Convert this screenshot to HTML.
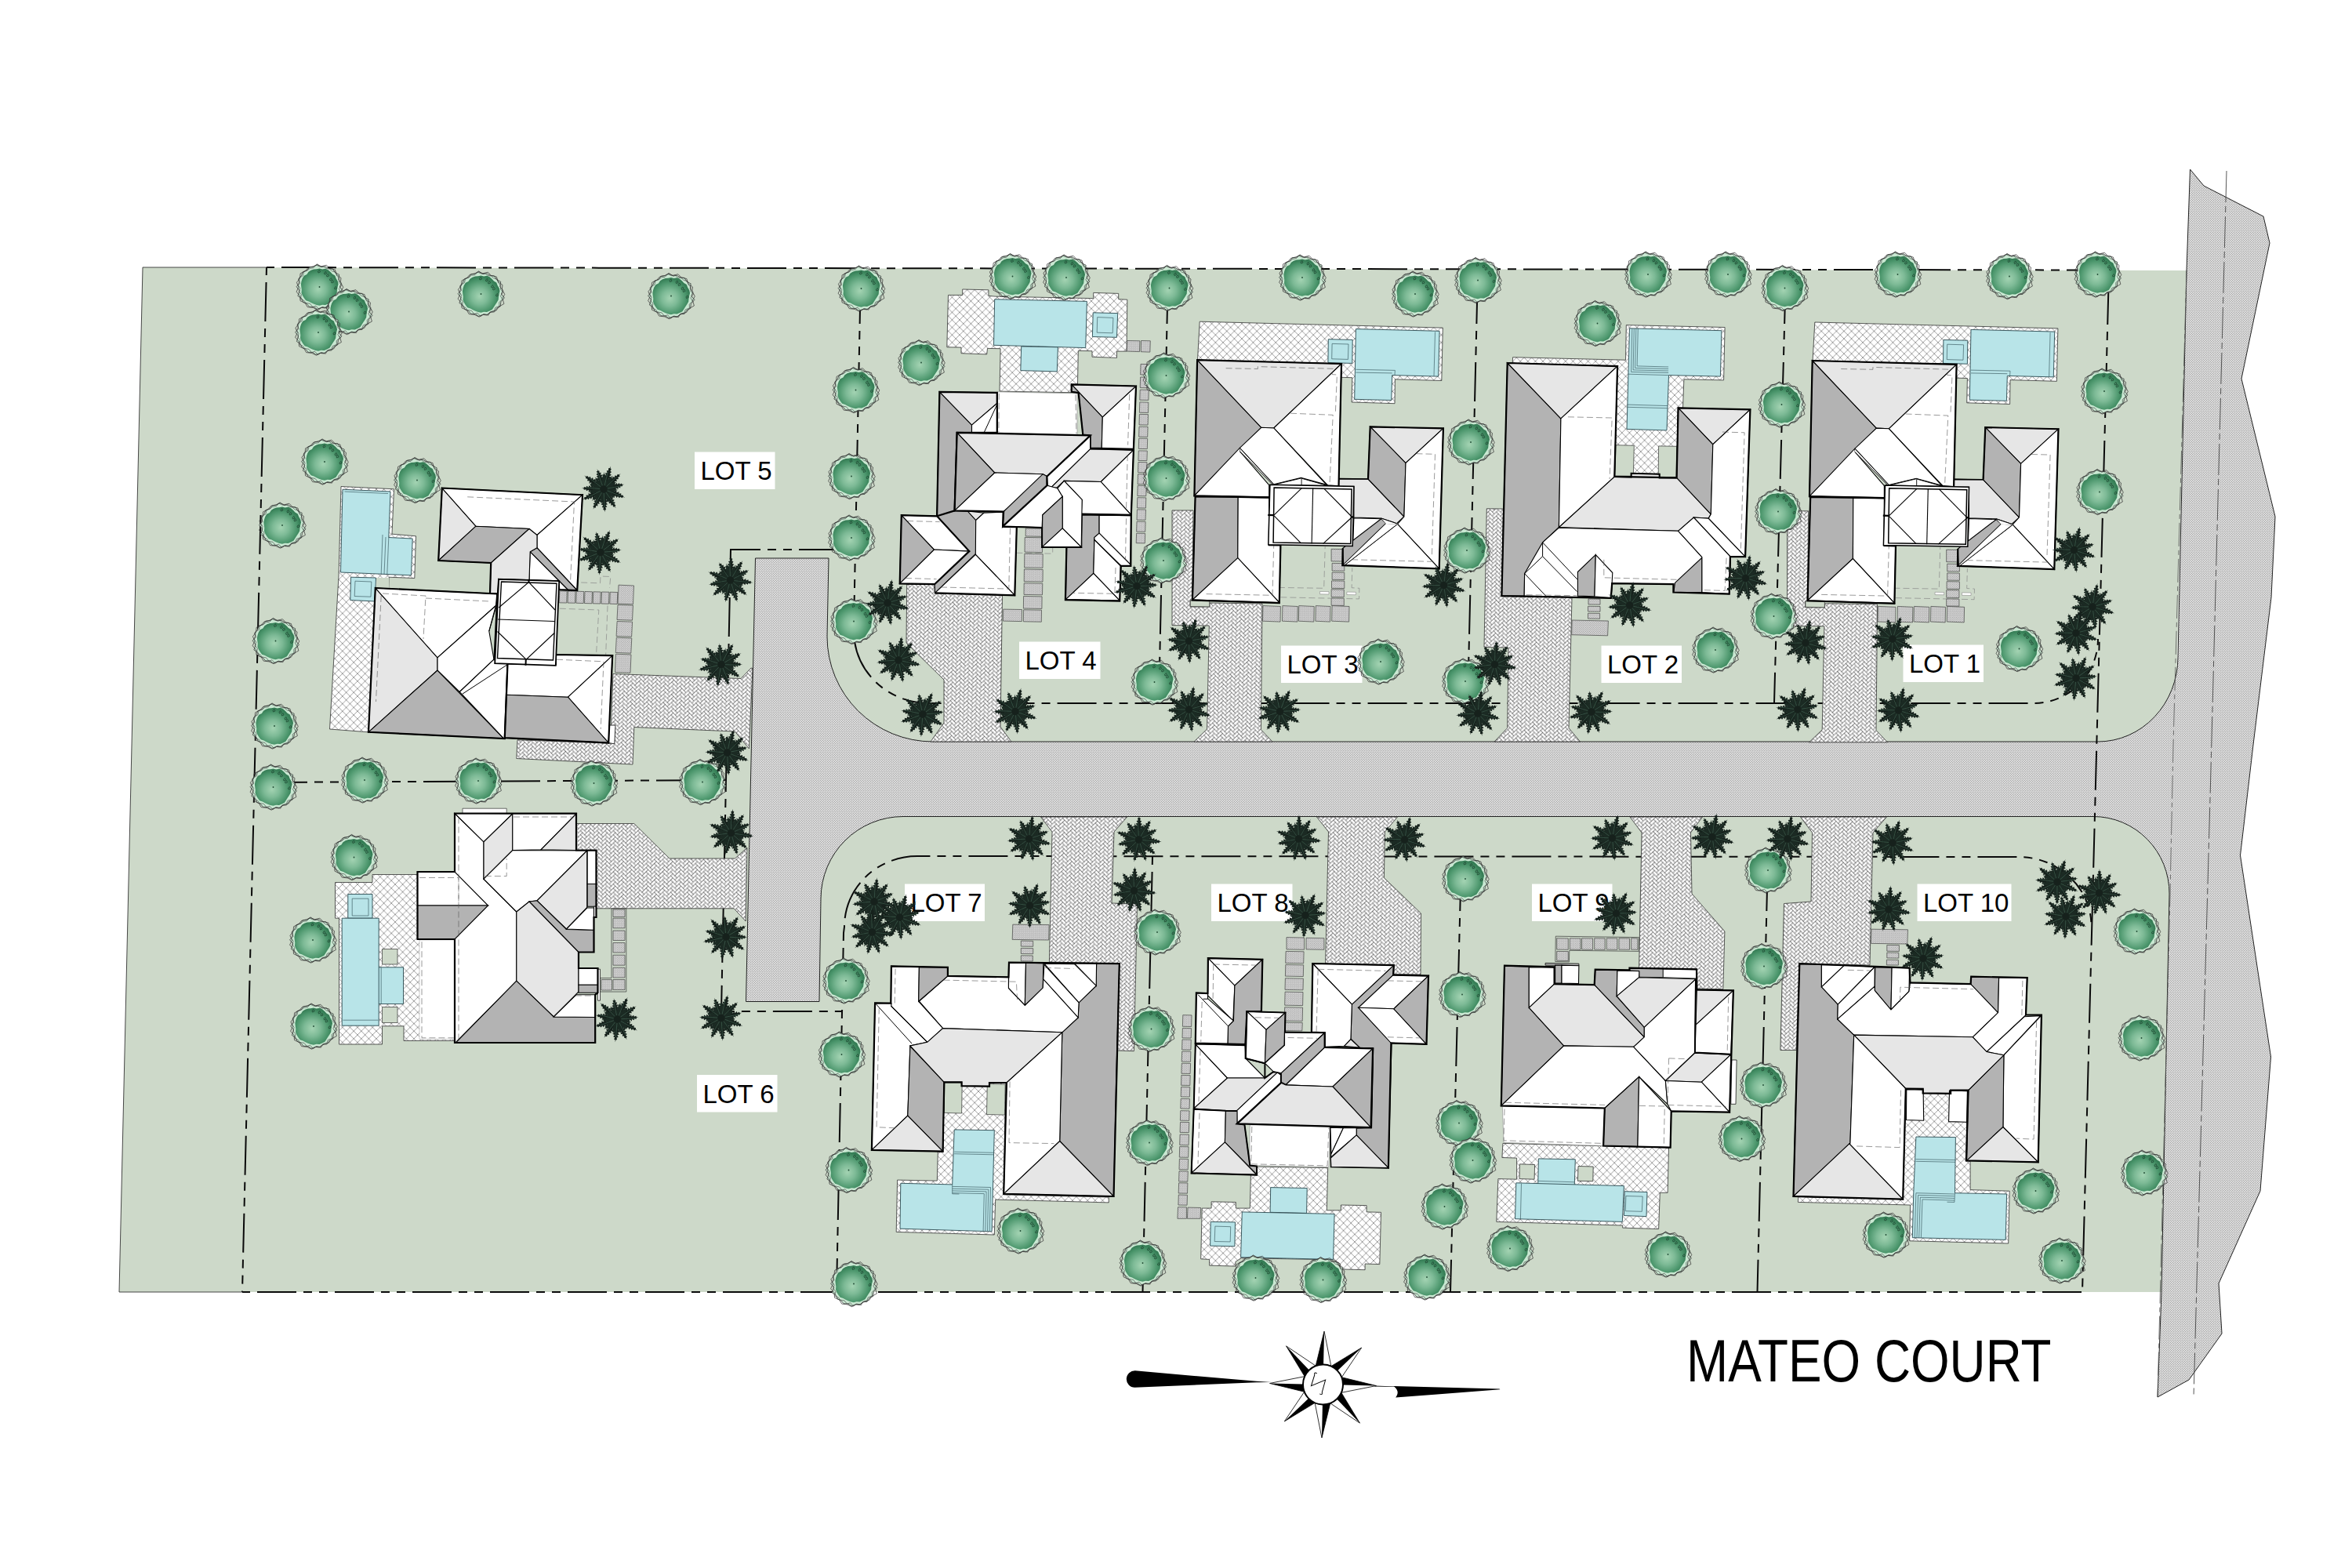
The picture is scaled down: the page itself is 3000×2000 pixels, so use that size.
<!DOCTYPE html>
<html><head><meta charset="utf-8"><title>Mateo Court</title>
<style>html,body{margin:0;padding:0;background:#fff;}svg{display:block;font-family:"Liberation Sans",sans-serif;}</style>
</head><body>
<svg width="3000" height="2000" viewBox="0 0 3000 2000">
<rect width="3000" height="2000" fill="#fff"/>
<defs>
<radialGradient id="tg" cx="46%" cy="56%" r="54%">
<stop offset="0" stop-color="#a3d3b2"/><stop offset="0.4" stop-color="#7dba96"/><stop offset="0.8" stop-color="#4a956b"/><stop offset="1" stop-color="#357d55"/>
</radialGradient>
<pattern id="road" width="3" height="3" patternUnits="userSpaceOnUse">
<rect width="3" height="3" fill="#e6e6e6"/>
<circle cx="0.75" cy="0.75" r="0.74" fill="#9c9c9c"/><circle cx="2.25" cy="2.25" r="0.74" fill="#9c9c9c"/>
</pattern>
<pattern id="stone" width="2.6" height="2.6" patternUnits="userSpaceOnUse">
<rect width="2.6" height="2.6" fill="#e2e2e2"/>
<circle cx="0.65" cy="0.65" r="0.66" fill="#989898"/><circle cx="1.95" cy="1.95" r="0.66" fill="#989898"/>
</pattern>
<pattern id="xh" width="9.6" height="9.6" patternUnits="userSpaceOnUse">
<rect width="9.6" height="9.6" fill="#ffffff"/>
<path d="M-1 -1 L10.6 10.6 M10.6 -1 L-1 10.6" stroke="#7d7d7d" stroke-width="0.75" fill="none"/>
</pattern>

<pattern id="herr" width="14.80" height="14.80" patternUnits="userSpaceOnUse" patternTransform="rotate(45.0)"><rect width="14.80" height="14.80" fill="#fdfdfd"/><path d="M0.00 3.70 H3.70 M3.70 3.70 V7.40 M3.70 7.40 V11.10 M0.00 11.10 H3.70 M3.70 11.10 V14.80 M0.00 14.80 H3.70 M7.40 0.00 V3.70 M3.70 3.70 H7.40 M3.70 7.40 H7.40 M7.40 7.40 V11.10 M7.40 11.10 V14.80 M3.70 14.80 H7.40 M11.10 0.00 V3.70 M7.40 3.70 H11.10 M11.10 3.70 V7.40 M7.40 7.40 H11.10 M7.40 11.10 H11.10 M11.10 11.10 V14.80 M14.80 0.00 V3.70 M14.80 3.70 V7.40 M11.10 7.40 H14.80 M14.80 7.40 V11.10 M11.10 11.10 H14.80 M11.10 14.80 H14.80" stroke="#4c4c4c" stroke-width="0.6" fill="none" stroke-linecap="square"/><path d="M0.00 14.80 H3.70 M3.70 14.80 H7.40 M11.10 14.80 H14.80" stroke="#4c4c4c" stroke-width="0.6" fill="none" transform="translate(0 -14.80)"/><path d="M14.80 0.00 V3.70 M14.80 3.70 V7.40 M14.80 7.40 V11.10" stroke="#4c4c4c" stroke-width="0.6" fill="none" transform="translate(-14.80 0)"/></pattern>
<pattern id="herr2" width="14.80" height="14.80" patternUnits="userSpaceOnUse" patternTransform="rotate(46.3)"><rect width="14.80" height="14.80" fill="#fdfdfd"/><path d="M0.00 3.70 H3.70 M3.70 3.70 V7.40 M3.70 7.40 V11.10 M0.00 11.10 H3.70 M3.70 11.10 V14.80 M0.00 14.80 H3.70 M7.40 0.00 V3.70 M3.70 3.70 H7.40 M3.70 7.40 H7.40 M7.40 7.40 V11.10 M7.40 11.10 V14.80 M3.70 14.80 H7.40 M11.10 0.00 V3.70 M7.40 3.70 H11.10 M11.10 3.70 V7.40 M7.40 7.40 H11.10 M7.40 11.10 H11.10 M11.10 11.10 V14.80 M14.80 0.00 V3.70 M14.80 3.70 V7.40 M11.10 7.40 H14.80 M14.80 7.40 V11.10 M11.10 11.10 H14.80 M11.10 14.80 H14.80" stroke="#4c4c4c" stroke-width="0.6" fill="none" stroke-linecap="square"/><path d="M0.00 14.80 H3.70 M3.70 14.80 H7.40 M11.10 14.80 H14.80" stroke="#4c4c4c" stroke-width="0.6" fill="none" transform="translate(0 -14.80)"/><path d="M14.80 0.00 V3.70 M14.80 3.70 V7.40 M14.80 7.40 V11.10" stroke="#4c4c4c" stroke-width="0.6" fill="none" transform="translate(-14.80 0)"/></pattern>
<g id="tree"><path d="M25.8 0.0 L29.9 4.9 L25.4 9.8 L24.6 15.9 L20.0 18.2 L17.0 22.9 L11.6 23.3 L7.2 26.9 L2.4 26.4 L-3.1 28.4 L-7.2 25.4 L-12.9 25.3 L-16.2 21.4 L-20.7 19.4 L-23.0 14.3 L-27.6 11.5 L-25.3 4.7 L-29.4 -0.3 L-25.1 -4.7 L-26.9 -10.0 L-23.1 -14.3 L-21.1 -19.3 L-15.9 -21.0 L-12.7 -25.3 L-7.4 -26.0 L-2.9 -29.1 L2.4 -25.4 L7.3 -26.2 L11.8 -23.6 L17.0 -23.1 L19.9 -18.2 L25.2 -15.7 L24.2 -9.4 L27.9 -4.8 L25.8 0.0Z" fill="#c9e8d2" stroke="#2f2f2f" stroke-width="0.75"/><path d="M27.4 5.5 L29.4 12.5 L22.7 16.2 L19.7 20.9 L13.3 22.5 L8.8 26.3 L3.0 26.0 L-2.3 29.2 L-8.3 26.4 L-15.3 25.6 L-18.2 20.6 L-24.5 17.7 L-24.9 11.4 L-29.4 6.2 L-26.6 0.3 L-29.1 -5.7 L-25.0 -10.8 L-24.4 -17.2 L-18.4 -20.1 L-14.3 -24.7 L-8.6 -25.8 L-3.0 -28.3 L2.5 -26.2 L8.9 -27.8 L13.2 -23.4 L19.9 -22.0 L21.5 -15.9 L27.5 -11.5 L26.8 -6.0 L30.3 0.4 L27.4 5.5Z" fill="none" stroke="#2f2f2f" stroke-width="0.7"/><path d="M24.9 2.5 L27.2 6.7 L23.3 10.7 L23.4 15.4 L18.3 17.4 L16.7 21.6 L11.8 22.8 L9.3 27.3 L3.8 25.5 L-0.6 28.6 L-4.5 24.2 L-8.4 25.8 L-12.0 21.4 L-17.6 20.4 L-19.6 17.4 L-24.2 15.5 L-23.1 9.7 L-26.2 6.0 L-24.9 1.6 L-27.5 -2.8 L-25.6 -6.9 L-26.0 -11.3 L-21.1 -14.3 L-19.9 -19.5 L-15.7 -20.9 L-12.2 -23.7 L-7.8 -24.2 L-4.1 -27.9 L0.4 -25.8 L5.4 -26.5 L8.5 -23.3 L12.7 -23.1 L16.2 -20.1 L21.1 -18.8 L22.2 -14.0 L25.2 -11.2 L24.9 -5.8 L28.5 -2.6 L24.9 2.5Z" fill="none" stroke="#3a3a3a" stroke-width="0.6"/><polygon points="23.1,0.0 22.5,3.6 22.2,7.2 20.4,10.4 18.4,13.4 16.5,16.5 14.4,19.8 11.0,21.6 7.5,22.9 3.6,22.8 0.0,23.7 -3.6,22.9 -7.1,21.8 -10.4,20.3 -13.5,18.6 -17.3,17.3 -19.6,14.3 -21.6,11.0 -23.0,7.5 -22.7,3.6 -23.2,0.0 -23.6,-3.7 -22.9,-7.4 -21.7,-11.0 -19.7,-14.3 -16.1,-16.1 -14.0,-19.3 -10.9,-21.3 -7.3,-22.5 -3.6,-22.7 -0.0,-23.5 3.6,-22.5 7.6,-23.3 11.0,-21.7 13.9,-19.2 16.4,-16.4 19.8,-14.4 21.2,-10.8 23.2,-7.5 24.0,-3.8" fill="url(#tg)"/><circle r="0.9" fill="#1f4a33"/><path d="M6.0 -18.0 l2 -1.5 l1 2.5 l-2.5 1 z" fill="none" stroke="#1f4a33" stroke-width="0.8"/><path d="M9.0 -15.0 l2 -1.5 l1 2.5 l-2.5 1 z" fill="none" stroke="#1f4a33" stroke-width="0.8"/><path d="M13.0 -10.0 l2 -1.5 l1 2.5 l-2.5 1 z" fill="none" stroke="#1f4a33" stroke-width="0.8"/><path d="M15.0 -7.0 l2 -1.5 l1 2.5 l-2.5 1 z" fill="none" stroke="#1f4a33" stroke-width="0.8"/><path d="M19.0 1.0 l2 -1.5 l1 2.5 l-2.5 1 z" fill="none" stroke="#1f4a33" stroke-width="0.8"/><path d="M-2.0 -20.0 l2 -1.5 l1 2.5 l-2.5 1 z" fill="none" stroke="#1f4a33" stroke-width="0.8"/></g>
<g id="palm"><polygon points="1.0,0.1 3.2,-2.0 3.7,-1.0 6.6,-2.9 7.0,-1.2 9.9,-3.4 10.3,-1.1 13.2,-3.4 13.6,-0.8 16.5,-3.1 16.8,-0.4 19.7,-2.3 20.1,0.2 22.9,-1.1 23.3,1.0 26.0,0.5 26.5,2.1 29.1,2.8 30.6,2.9 29.1,2.8 26.4,2.9 25.7,4.4 23.1,3.4 22.3,5.4 19.8,3.6 18.9,6.0 16.5,3.6 15.6,6.1 13.2,3.4 12.3,5.9 9.9,3.0 9.1,5.2 6.7,2.4 5.9,4.1 3.5,1.7 2.8,2.6" fill="#16211c"/><polygon points="0.8,0.7 3.8,0.2 3.6,1.3 7.0,1.5 6.3,3.1 10.0,3.0 8.9,5.1 12.6,4.9 11.4,7.2 15.0,7.1 13.7,9.4 17.1,9.5 15.9,11.8 19.0,12.3 18.0,14.3 20.5,15.5 19.9,17.0 21.7,19.1 22.8,20.1 21.7,19.1 19.4,17.6 17.9,18.4 16.5,16.1 14.6,17.3 13.7,14.3 11.6,15.8 11.1,12.4 8.9,14.0 8.6,10.4 6.4,11.9 6.2,8.2 4.3,9.5 3.9,5.9 2.3,6.8 1.8,3.4 0.7,3.7" fill="#16211c"/><polygon points="0.3,0.9 3.2,2.1 2.5,3.0 5.4,4.8 3.9,6.0 7.2,7.7 5.2,9.0 8.6,10.7 6.3,12.1 9.6,13.8 7.3,15.3 10.2,17.1 8.0,18.5 10.4,20.5 8.6,21.8 10.2,24.0 9.0,25.1 9.4,27.8 9.9,29.2 9.4,27.8 8.2,25.4 6.5,25.3 6.4,22.5 4.2,22.6 4.9,19.6 2.3,19.8 3.5,16.5 0.8,16.8 2.3,13.5 -0.3,13.7 1.3,10.3 -1.0,10.5 0.5,7.1 -1.3,7.1 -0.1,3.9 -1.2,3.6" fill="#16211c"/><polygon points="-0.2,1.0 1.7,3.4 0.6,3.8 2.2,6.8 0.4,7.1 2.3,10.2 -0.0,10.3 2.0,13.5 -0.7,13.5 1.3,16.6 -1.4,16.7 0.1,19.7 -2.4,19.8 -1.4,22.7 -3.6,22.9 -3.3,25.7 -5.0,25.9 -5.9,28.4 -6.2,29.9 -5.9,28.4 -5.8,25.7 -7.2,24.9 -5.9,22.4 -7.8,21.4 -5.7,19.1 -8.0,18.0 -5.3,15.9 -7.8,14.7 -4.8,12.6 -7.2,11.6 -4.1,9.5 -6.2,8.4 -3.2,6.3 -4.7,5.4 -2.1,3.2 -2.9,2.5" fill="#16211c"/><polygon points="-0.7,0.7 -0.6,3.7 -1.8,3.5 -2.3,6.9 -4.0,6.1 -4.3,9.8 -6.3,8.6 -6.6,12.4 -8.8,10.9 -9.1,14.6 -11.4,13.1 -11.9,16.6 -14.1,15.2 -15.0,18.2 -16.9,17.1 -18.4,19.5 -20.0,18.8 -22.3,20.4 -23.4,21.4 -22.3,20.4 -20.5,18.2 -21.1,16.6 -18.5,15.4 -19.5,13.4 -16.4,12.7 -17.5,10.4 -14.1,10.2 -15.4,7.8 -11.6,7.8 -12.9,5.5 -9.1,5.5 -10.1,3.4 -6.4,3.4 -7.1,1.7 -3.6,1.5 -3.8,0.3" fill="#16211c"/><polygon points="-1.0,0.2 -2.4,3.0 -3.1,2.2 -5.2,4.9 -6.1,3.3 -8.0,6.4 -9.1,4.3 -11.0,7.4 -12.1,5.1 -14.1,8.1 -15.2,5.7 -17.3,8.4 -18.4,6.1 -20.5,8.3 -21.6,6.4 -23.9,7.7 -24.8,6.3 -27.4,6.6 -28.9,6.9 -27.4,6.6 -25.0,5.5 -24.8,3.9 -22.1,4.1 -22.1,1.9 -19.2,2.8 -19.2,0.3 -16.2,1.8 -16.3,-0.9 -13.1,1.0 -13.2,-1.7 -10.0,0.3 -10.0,-2.0 -6.9,-0.2 -6.8,-2.0 -3.8,-0.5 -3.5,-1.6" fill="#16211c"/><polygon points="-0.9,-0.3 -3.6,1.2 -3.9,0.1 -7.2,1.2 -7.3,-0.6 -10.7,0.8 -10.6,-1.5 -14.0,0.0 -13.8,-2.6 -17.2,-1.1 -17.0,-3.8 -20.3,-2.7 -20.1,-5.2 -23.2,-4.6 -23.1,-6.8 -26.0,-7.0 -26.1,-8.7 -28.5,-10.0 -30.0,-10.5 -28.5,-10.0 -25.8,-9.5 -24.7,-10.7 -22.4,-9.1 -21.0,-10.8 -19.0,-8.4 -17.5,-10.5 -15.7,-7.6 -14.2,-9.8 -12.4,-6.6 -10.9,-8.8 -9.2,-5.4 -7.8,-7.3 -6.1,-4.0 -4.9,-5.5 -3.0,-2.5 -2.1,-3.2" fill="#16211c"/><polygon points="-0.6,-0.8 -3.6,-1.2 -3.1,-2.1 -6.3,-3.0 -5.1,-4.4 -8.6,-5.1 -7.0,-6.7 -10.6,-7.4 -8.7,-9.2 -12.2,-10.0 -10.3,-11.8 -13.5,-12.7 -11.7,-14.5 -14.5,-15.7 -13.0,-17.3 -15.1,-19.0 -14.0,-20.2 -15.1,-22.6 -16.0,-23.8 -15.1,-22.6 -13.4,-20.7 -11.8,-21.1 -11.0,-18.6 -9.0,-19.4 -8.9,-16.4 -6.6,-17.4 -7.0,-14.0 -4.6,-15.1 -5.2,-11.6 -2.8,-12.6 -3.6,-9.0 -1.5,-9.9 -2.1,-6.4 -0.4,-7.0 -0.8,-3.6 0.3,-3.8" fill="#16211c"/><polygon points="0.0,-1.0 -2.3,-3.0 -1.3,-3.7 -3.4,-6.5 -1.7,-7.2 -4.2,-10.0 -1.9,-10.7 -4.5,-13.5 -1.9,-14.2 -4.4,-17.0 -1.7,-17.7 -3.9,-20.5 -1.4,-21.2 -2.9,-23.9 -0.8,-24.6 -1.5,-27.4 0.0,-28.1 0.5,-30.9 0.5,-32.4 0.5,-30.9 0.8,-28.1 2.4,-27.3 1.6,-24.6 3.6,-23.8 2.0,-21.1 4.5,-20.3 2.3,-17.6 4.9,-16.9 2.3,-14.1 4.9,-13.4 2.2,-10.6 4.5,-9.9 1.9,-7.2 3.6,-6.4 1.4,-3.7 2.4,-3.0" fill="#16211c"/><polygon points="0.5,-0.9 -0.4,-3.8 0.7,-3.8 0.3,-7.2 2.1,-6.9 1.3,-10.5 3.6,-9.8 2.7,-13.5 5.2,-12.7 4.5,-16.3 7.1,-15.4 6.6,-18.9 9.0,-18.1 9.1,-21.2 11.2,-20.7 11.9,-23.4 13.6,-23.1 15.3,-25.2 16.1,-26.4 15.3,-25.2 14.3,-22.7 15.3,-21.3 13.2,-19.4 14.7,-17.8 11.9,-16.3 13.7,-14.5 10.5,-13.4 12.4,-11.5 8.8,-10.5 10.7,-8.6 7.1,-7.7 8.7,-6.0 5.1,-5.0 6.3,-3.5 3.1,-2.4 3.6,-1.3" fill="#16211c"/><polygon points="0.9,-0.5 1.5,-3.5 2.3,-2.9 3.5,-6.0 4.7,-4.7 5.7,-8.2 7.2,-6.4 8.2,-10.0 9.8,-8.0 10.8,-11.4 12.5,-9.3 13.7,-12.5 15.3,-10.5 16.7,-13.2 18.2,-11.6 20.0,-13.5 21.2,-12.4 23.6,-13.3 24.9,-14.0 23.6,-13.3 21.6,-11.7 21.9,-10.1 19.3,-9.5 20.0,-7.4 16.9,-7.6 17.8,-5.2 14.5,-5.9 15.4,-3.3 11.9,-4.3 12.8,-1.8 9.3,-2.9 10.0,-0.7 6.5,-1.6 7.0,0.1 3.7,-0.5 3.8,0.6" fill="#16211c"/><polygon points="0.9,0.4 3.5,-0.7 3.7,0.1 6.9,-0.9 6.7,0.9 9.9,-0.2 9.5,2.0 12.6,1.2 12.2,3.5 15.0,3.6 14.7,5.4 16.9,6.9 18.3,7.5 16.9,6.9 14.3,6.5 13.1,8.0 11.1,6.1 9.8,8.0 8.2,5.3 6.9,7.2 5.4,4.1 4.3,5.5 2.7,2.5 2.0,3.0" fill="#1b2a23"/><polygon points="0.6,0.8 3.4,1.1 3.2,2.0 6.5,2.8 5.5,4.2 8.9,4.9 7.5,6.7 10.6,7.7 9.2,9.5 11.6,10.9 10.5,12.5 11.7,14.9 12.6,16.1 11.7,14.9 9.6,13.2 7.8,13.9 7.0,11.2 4.9,12.2 4.7,8.9 2.6,9.9 2.8,6.4 1.1,7.0 1.2,3.6 0.3,3.6" fill="#1b2a23"/><polygon points="0.1,1.0 2.3,2.7 1.7,3.5 4.2,5.9 2.6,6.8 5.1,9.2 3.0,10.1 5.2,12.6 3.0,13.5 4.3,16.1 2.6,17.0 2.3,19.7 2.5,21.2 2.3,19.7 1.5,17.1 -0.4,16.7 0.2,13.8 -2.1,13.5 -0.5,10.5 -2.8,10.1 -0.9,7.2 -2.7,6.7 -0.9,3.8 -1.6,3.2" fill="#1b2a23"/><polygon points="-0.5,0.9 0.2,3.6 -0.8,4.0 -0.3,7.5 -2.2,7.4 -1.7,11.0 -4.0,10.6 -3.8,14.0 -6.2,13.6 -6.7,16.6 -8.7,16.4 -10.6,18.6 -11.3,19.9 -10.6,18.6 -9.7,15.8 -10.9,14.2 -8.6,12.2 -10.1,10.4 -7.1,8.8 -8.6,7.0 -5.2,5.6 -6.3,4.1 -3.0,2.7 -3.2,1.6" fill="#1b2a23"/><polygon points="-0.9,0.5 -1.8,3.1 -2.7,2.9 -4.3,6.0 -5.7,4.8 -7.1,8.1 -8.8,6.4 -10.4,9.4 -12.1,7.7 -14.1,9.8 -15.6,8.5 -18.3,9.3 -19.7,10.0 -18.3,9.3 -16.1,7.5 -16.3,5.6 -13.4,5.2 -13.7,2.9 -10.4,3.3 -10.7,1.0 -7.2,1.7 -7.4,-0.1 -3.9,0.5 -3.6,-0.4" fill="#1b2a23"/><polygon points="-1.0,-0.1 -3.2,1.7 -3.9,0.9 -6.8,2.8 -7.4,1.0 -10.4,3.0 -10.9,0.7 -13.9,2.3 -14.4,-0.1 -17.3,0.7 -17.8,-1.2 -20.5,-2.1 -22.0,-2.2 -20.5,-2.1 -17.7,-2.3 -16.8,-4.1 -14.1,-2.8 -13.2,-5.0 -10.6,-2.8 -9.6,-5.0 -7.1,-2.5 -6.2,-4.1 -3.6,-1.7 -2.8,-2.3" fill="#1b2a23"/><polygon points="-0.8,-0.6 -3.6,-0.3 -3.6,-1.2 -7.0,-1.1 -6.4,-2.8 -9.9,-2.7 -9.0,-4.8 -12.2,-4.9 -11.3,-7.1 -14.0,-7.9 -13.3,-9.7 -15.0,-11.8 -16.2,-12.7 -15.0,-11.8 -12.6,-10.6 -11.0,-11.7 -9.6,-9.3 -7.7,-10.7 -6.8,-7.6 -5.0,-9.0 -4.3,-5.6 -2.8,-6.6 -2.0,-3.2 -1.1,-3.4" fill="#1b2a23"/><polygon points="-0.2,-1.0 -2.7,-2.4 -2.2,-3.4 -5.0,-5.7 -3.6,-7.0 -6.5,-9.3 -4.5,-10.7 -7.1,-13.0 -5.1,-14.5 -6.8,-17.0 -5.2,-18.3 -5.4,-21.3 -5.8,-22.8 -5.4,-21.3 -4.1,-18.6 -2.2,-18.2 -2.4,-15.1 -0.0,-14.8 -1.1,-11.6 1.3,-11.3 -0.2,-7.9 1.7,-7.4 0.3,-4.1 1.2,-3.4" fill="#1b2a23"/><polygon points="0.3,-1.0 -1.0,-3.5 -0.2,-4.0 -1.4,-7.3 0.5,-7.5 -0.9,-10.9 1.5,-10.9 0.5,-14.2 2.9,-14.2 2.8,-17.2 4.7,-17.4 6.1,-19.9 6.5,-21.4 6.1,-19.9 5.8,-17.1 7.4,-15.8 5.6,-13.4 7.5,-12.0 4.9,-9.9 6.8,-8.5 3.8,-6.5 5.2,-5.3 2.4,-3.2 2.8,-2.3" fill="#1b2a23"/><polygon points="0.7,-0.7 0.7,-3.5 1.6,-3.4 1.9,-6.8 3.5,-6.0 3.8,-9.5 5.8,-8.3 6.3,-11.5 8.3,-10.3 9.4,-12.8 11.1,-11.9 13.4,-13.4 14.4,-14.5 13.4,-13.4 11.9,-11.1 12.8,-9.4 10.2,-8.3 11.4,-6.3 8.3,-5.8 9.4,-3.8 6.0,-3.5 6.8,-1.9 3.4,-1.6 3.5,-0.7" fill="#1b2a23"/><polygon points="1.0,-0.2 2.5,-2.6 3.1,-2.0 5.2,-4.7 6.0,-3.1 8.0,-5.9 9.0,-3.8 11.1,-6.2 12.0,-4.1 14.3,-5.7 15.2,-4.0 17.8,-4.0 19.3,-4.3 17.8,-4.0 15.5,-2.9 15.4,-1.0 12.6,-1.4 12.7,0.9 9.7,-0.4 9.8,1.9 6.8,0.3 6.7,2.0 3.7,0.5 3.4,1.3" fill="#1b2a23"/><line x1="5.0" y1="0.5" x2="22.9" y2="2.3" stroke="#3c5a4b" stroke-width="0.7"/><line x1="3.9" y1="3.1" x2="18.0" y2="14.3" stroke="#3c5a4b" stroke-width="0.7"/><line x1="1.6" y1="4.7" x2="7.4" y2="21.8" stroke="#3c5a4b" stroke-width="0.7"/><line x1="-1.2" y1="4.9" x2="-5.5" y2="22.3" stroke="#3c5a4b" stroke-width="0.7"/><line x1="-3.6" y1="3.4" x2="-16.7" y2="15.8" stroke="#3c5a4b" stroke-width="0.7"/><line x1="-4.9" y1="0.9" x2="-22.6" y2="4.2" stroke="#3c5a4b" stroke-width="0.7"/><line x1="-4.6" y1="-1.9" x2="-21.3" y2="-8.7" stroke="#3c5a4b" stroke-width="0.7"/><line x1="-2.9" y1="-4.1" x2="-13.3" y2="-18.8" stroke="#3c5a4b" stroke-width="0.7"/><line x1="-0.2" y1="-5.0" x2="-1.0" y2="-23.0" stroke="#3c5a4b" stroke-width="0.7"/><line x1="2.5" y1="-4.3" x2="11.6" y2="-19.9" stroke="#3c5a4b" stroke-width="0.7"/><line x1="4.5" y1="-2.3" x2="20.5" y2="-10.4" stroke="#3c5a4b" stroke-width="0.7"/><circle r="4.5" fill="#16211c"/></g>
</defs>
<polygon points="182.0,341.0 2789.0,345.0 2757.0,1648.0 152.0,1648.0" fill="#cdd9c9"/>
<polyline points="340,341 182,341 152,1648 309,1648" fill="none" stroke="#333" stroke-width="0.9"/>
<path d="M963.5 712 L1057 712 L1055 812 A135 134 0 0 0 1190 946 L2676 946 A102 108 0 0 0 2778 838 L2789 345 L2793.5 216.0 L2811.0 237.0 L2887.0 276.0 L2895.0 310.0 L2859.0 483.0 L2902.0 659.0 L2897.0 762.0 L2874.0 950.0 L2857.5 1091.0 L2896.5 1348.0 L2883.0 1519.0 L2830.0 1637.0 L2834.0 1701.0 L2792.0 1760.0 L2752.0 1782.0 L2757 1648 L2767 1140 A97 98 0 0 0 2670 1041.5 L1152 1041.5 A105 105 0 0 0 1047 1146 L1045 1277.5 L951.5 1277.5 Z" fill="url(#road)" stroke="#222" stroke-width="1"/>
<path d="M2840 218 L2819.5 1000 L2798 1782" fill="none" stroke="#444" stroke-width="0.9" stroke-dasharray="40 5 8 5"/>
<path d="M2789 345 L2772 950 L2768 1140 L2752 1782" fill="none" stroke="#555" stroke-width="0.8" stroke-dasharray="30 5 6 5"/>
<polyline points="340.0,341.0 2690.0,344.5" fill="none" stroke="#0a0a0a" stroke-width="2.0" stroke-dasharray="50 9 11 9 11 9" stroke-dashoffset="80"/>
<polyline points="340.0,341.0 309.0,1648.0" fill="none" stroke="#0a0a0a" stroke-width="2.0" stroke-dasharray="50 9 11 9 11 9" stroke-dashoffset="80"/>
<polyline points="309.0,1648.0 2656.0,1648.0" fill="none" stroke="#0a0a0a" stroke-width="2.0" stroke-dasharray="50 9 11 9 11 9" stroke-dashoffset="80"/>
<polyline points="2690.0,345.0 2673.0,1000.0 2656.0,1648.0" fill="none" stroke="#0a0a0a" stroke-width="2.0" stroke-dasharray="50 9 11 9 11 9" stroke-dashoffset="80"/>
<polyline points="323.0,998.0 925.0,995.0" fill="none" stroke="#0a0a0a" stroke-width="2.0" stroke-dasharray="50 9 11 9 11 9" stroke-dashoffset="80"/>
<polyline points="1088.0,701.0 932.0,701.0 920.0,1290.0 1075.0,1290.0" fill="none" stroke="#0a0a0a" stroke-width="2.0" stroke-dasharray="50 9 11 9 11 9" stroke-dashoffset="80"/>
<polyline points="1098.0,344.0 1089.0,800.0" fill="none" stroke="#0a0a0a" stroke-width="2.0" stroke-dasharray="50 9 11 9 11 9" stroke-dashoffset="80"/>
<polyline points="1490.0,344.0 1478.0,897.0" fill="none" stroke="#0a0a0a" stroke-width="2.0" stroke-dasharray="50 9 11 9 11 9" stroke-dashoffset="80"/>
<polyline points="1885.0,344.0 1872.0,897.0" fill="none" stroke="#0a0a0a" stroke-width="2.0" stroke-dasharray="50 9 11 9 11 9" stroke-dashoffset="80"/>
<polyline points="2278.0,344.0 2263.0,897.0" fill="none" stroke="#0a0a0a" stroke-width="2.0" stroke-dasharray="50 9 11 9 11 9" stroke-dashoffset="80"/>
<polyline points="1076.0,1190.0 1067.0,1648.0" fill="none" stroke="#0a0a0a" stroke-width="2.0" stroke-dasharray="50 9 11 9 11 9" stroke-dashoffset="80"/>
<polyline points="1470.0,1093.0 1457.5,1648.0" fill="none" stroke="#0a0a0a" stroke-width="2.0" stroke-dasharray="50 9 11 9 11 9" stroke-dashoffset="80"/>
<polyline points="1864.0,1093.0 1850.0,1648.0" fill="none" stroke="#0a0a0a" stroke-width="2.0" stroke-dasharray="50 9 11 9 11 9" stroke-dashoffset="80"/>
<polyline points="2255.0,1093.0 2241.5,1648.0" fill="none" stroke="#0a0a0a" stroke-width="2.0" stroke-dasharray="50 9 11 9 11 9" stroke-dashoffset="80"/>
<path d="M1089 800 L1089 805 A96 92 0 0 0 1185 897 L2594 897 A82 82 0 0 0 2676 815" fill="none" stroke="#0a0a0a" stroke-width="2.0" stroke-dasharray="50 9 11 9 11 9" stroke-dashoffset="80"/>
<path d="M1076 1190 L1077 1182 A93 90 0 0 1 1170 1092 L2574 1093 A93 88 0 0 1 2667.5 1180" fill="none" stroke="#0a0a0a" stroke-width="2.0" stroke-dasharray="50 9 11 9 11 9" stroke-dashoffset="80"/>
<polygon points="435.0,620.5 502.5,623.8 500.0,681.2 530.5,683.8 528.8,737.5 496.2,736.2 495.8,750.0 478.8,750.0 470.0,933.8 420.5,930.0 432.0,735.0" fill="url(#xh)" stroke="#333" stroke-width="0.80" stroke-linejoin="miter" />
<polygon points="496.2,737.0 496.2,750.0 479.5,750.0 480.0,737.0" fill="#cdd9c9" stroke="none" stroke-width="0.00" stroke-linejoin="miter" />
<polygon points="437.0,624.2 498.0,627.0 495.8,685.5 526.2,687.0 524.5,733.8 434.5,730.0" fill="#b8e4e8" stroke="#2b4a50" stroke-width="0.90" stroke-linejoin="miter" />
<polyline points="439.5,627.0 495.0,629.5" fill="none" stroke="#2b4a50" stroke-width="0.60"/>
<polyline points="488.0,682.0 486.2,732.0" fill="none" stroke="#2b4a50" stroke-width="0.60"/>
<polyline points="492.0,685.0 490.0,732.5" fill="none" stroke="#2b4a50" stroke-width="0.60"/>
<polyline points="495.8,685.5 493.8,732.5" fill="none" stroke="#2b4a50" stroke-width="0.60"/>
<polygon points="447.5,736.2 479.5,737.0 478.2,767.0 446.8,765.5" fill="#b8e4e8" stroke="#2b4a50" stroke-width="0.90" stroke-linejoin="miter" />
<polygon points="453.0,741.2 473.8,742.0 473.0,761.2 452.2,760.5" fill="#b8e4e8" stroke="#2b4a50" stroke-width="0.60" stroke-linejoin="miter" />
<polygon points="782.0,859.5 945.0,865.5 958.0,852.0 960.0,852.5 955.5,955.0 937.5,933.0 808.8,927.5 807.0,975.0 658.8,967.5 660.0,943.8 778.8,948.0" fill="url(#herr2)" stroke="#333" stroke-width="0.80" stroke-linejoin="miter" />
<polygon points="713.8,753.8 723.2,754.0 722.8,769.0 713.2,768.8" fill="url(#stone)" stroke="#444" stroke-width="0.70" stroke-linejoin="miter" />
<polygon points="724.5,754.0 734.0,754.2 733.5,769.2 724.0,769.0" fill="url(#stone)" stroke="#444" stroke-width="0.70" stroke-linejoin="miter" />
<polygon points="735.2,754.2 744.8,754.5 744.2,769.5 734.8,769.2" fill="url(#stone)" stroke="#444" stroke-width="0.70" stroke-linejoin="miter" />
<polygon points="746.0,754.5 755.5,754.8 755.0,769.8 745.5,769.5" fill="url(#stone)" stroke="#444" stroke-width="0.70" stroke-linejoin="miter" />
<polygon points="756.8,754.8 766.2,755.0 765.8,770.0 756.2,769.8" fill="url(#stone)" stroke="#444" stroke-width="0.70" stroke-linejoin="miter" />
<polygon points="767.5,755.0 777.0,755.2 776.5,770.2 767.0,770.0" fill="url(#stone)" stroke="#444" stroke-width="0.70" stroke-linejoin="miter" />
<polygon points="778.2,755.2 787.8,755.5 787.2,770.5 777.8,770.2" fill="url(#stone)" stroke="#444" stroke-width="0.70" stroke-linejoin="miter" />
<polygon points="789.0,746.2 808.5,747.0 807.5,770.8 788.0,770.0" fill="url(#stone)" stroke="#444" stroke-width="0.70" stroke-linejoin="miter" />
<polygon points="788.0,771.5 807.5,772.2 806.5,791.2 787.0,790.5" fill="url(#stone)" stroke="#444" stroke-width="0.70" stroke-linejoin="miter" />
<polygon points="787.1,792.5 806.6,793.2 805.6,812.2 786.1,811.5" fill="url(#stone)" stroke="#444" stroke-width="0.70" stroke-linejoin="miter" />
<polygon points="786.3,813.2 805.8,814.0 804.8,833.2 785.3,832.5" fill="url(#stone)" stroke="#444" stroke-width="0.70" stroke-linejoin="miter" />
<polygon points="785.5,834.2 805.0,835.0 804.0,858.2 784.5,857.5" fill="url(#stone)" stroke="#444" stroke-width="0.70" stroke-linejoin="miter" />
<polyline points="741.2,743.0 765.5,743.8 766.0,735.0 778.8,735.5 777.5,750.0" fill="none" stroke="#888" stroke-width="0.70" stroke-dasharray="8 4"/>
<polyline points="713.8,776.2 763.8,778.0 760.0,843.8" fill="none" stroke="#888" stroke-width="0.70" stroke-dasharray="8 4"/>
<polyline points="775.0,772.5 772.5,840.0" fill="none" stroke="#888" stroke-width="0.70" stroke-dasharray="8 4"/>
<polygon points="563.8,622.5 607.0,671.2 559.2,715.0" fill="#e6e6e6" stroke="#000" stroke-width="1.10" stroke-linejoin="miter" />
<polygon points="563.8,622.5 743.0,631.2 685.0,682.5 675.0,674.5 607.0,671.2" fill="#ffffff" stroke="#000" stroke-width="1.10" stroke-linejoin="miter" />
<polygon points="607.0,671.2 675.0,674.5 626.2,718.0 559.2,715.0" fill="#b3b3b3" stroke="#000" stroke-width="1.10" stroke-linejoin="miter" />
<polygon points="743.0,631.2 736.2,753.0 685.0,698.8 685.0,682.5" fill="#ffffff" stroke="#000" stroke-width="1.10" stroke-linejoin="miter" />
<polygon points="676.2,703.8 685.0,698.8 736.2,753.0 725.0,753.0" fill="#b3b3b3" stroke="#000" stroke-width="1.10" stroke-linejoin="miter" />
<polygon points="676.2,703.8 725.0,753.0 713.2,752.5 712.5,741.2 675.0,740.0" fill="#ffffff" stroke="#000" stroke-width="1.10" stroke-linejoin="miter" />
<polygon points="675.0,674.5 685.0,682.5 685.0,698.8 676.2,703.8 675.0,740.0 636.2,738.8 635.0,757.5 625.0,757.0 626.2,718.0" fill="#e6e6e6" stroke="#000" stroke-width="1.10" stroke-linejoin="miter" />
<polyline points="596.2,633.8 732.5,640.0 727.5,742.5" fill="none" stroke="#555" stroke-width="0.60" stroke-dasharray="8 4"/>
<polygon points="563.8,622.5 743.0,631.2 736.2,753.0 713.2,752.0 712.5,741.2 636.2,738.8 635.0,757.5 625.0,757.0 626.2,718.0 559.2,715.0" fill="none" stroke="#000" stroke-width="2.20" stroke-linejoin="miter"/>
<polygon points="478.8,750.0 558.0,838.8 558.0,855.0 470.0,933.8" fill="#e6e6e6" stroke="#000" stroke-width="1.10" stroke-linejoin="miter" />
<polygon points="478.8,750.0 633.8,757.5 632.5,772.5 558.0,838.8" fill="#ffffff" stroke="#000" stroke-width="1.10" stroke-linejoin="miter" />
<polygon points="470.0,933.8 558.0,855.0 642.5,942.0" fill="#b3b3b3" stroke="#000" stroke-width="1.10" stroke-linejoin="miter" />
<polygon points="632.5,772.5 558.0,838.8 558.0,855.0 586.2,882.5 630.0,841.2 623.8,805.0" fill="#ffffff" stroke="#000" stroke-width="1.10" stroke-linejoin="miter" />
<polygon points="586.2,882.5 630.0,841.2 647.5,846.2 643.8,942.0 642.5,942.0" fill="#ffffff" stroke="#000" stroke-width="1.10" stroke-linejoin="miter" />
<polyline points="590.0,885.0 647.5,847.5" fill="none" stroke="#000" stroke-width="1.00"/>
<polyline points="623.8,805.0 632.5,775.0" fill="none" stroke="#000" stroke-width="1.00"/>
<polyline points="488.0,757.0 543.0,760.0 540.0,815.0" fill="none" stroke="#555" stroke-width="0.60" stroke-dasharray="8 4"/>
<polyline points="543.0,763.0 625.0,767.0" fill="none" stroke="#555" stroke-width="0.60" stroke-dasharray="8 4"/>
<polyline points="486.2,760.0 479.5,895.0" fill="none" stroke="#555" stroke-width="0.60" stroke-dasharray="8 4"/>
<polygon points="478.8,750.0 634.5,757.5 630.5,841.2 647.5,846.2 643.8,942.0 470.0,933.8" fill="none" stroke="#000" stroke-width="2.20" stroke-linejoin="miter"/>
<polygon points="647.5,846.2 708.8,847.5 708.8,835.0 781.2,836.2 724.5,889.2 646.2,886.2" fill="#ffffff" stroke="#000" stroke-width="1.10" stroke-linejoin="miter" />
<polygon points="781.2,836.2 776.2,947.5 724.5,889.2" fill="#ffffff" stroke="#000" stroke-width="1.10" stroke-linejoin="miter" />
<polygon points="646.2,886.2 724.5,889.2 776.2,947.5 643.8,941.2" fill="#b3b3b3" stroke="#000" stroke-width="1.10" stroke-linejoin="miter" />
<polygon points="777.0,925.0 785.0,925.0 783.8,948.8 776.2,947.5" fill="#ffffff" stroke="#000" stroke-width="0.80" stroke-linejoin="miter" />
<polyline points="710.0,841.2 770.0,843.8 766.2,930.0" fill="none" stroke="#555" stroke-width="0.60" stroke-dasharray="8 4"/>
<polygon points="647.5,846.2 708.8,847.5 708.8,835.0 781.2,836.2 776.2,947.5 643.8,941.2" fill="none" stroke="#000" stroke-width="2.20" stroke-linejoin="miter"/>
<polygon points="636.2,738.8 713.2,741.2 708.8,848.8 631.2,846.2" fill="#ffffff" stroke="#000" stroke-width="1.80" stroke-linejoin="miter" />
<polygon points="639.5,742.0 710.0,744.2 705.5,842.0 634.5,839.5" fill="#ffffff" stroke="#000" stroke-width="1.40" stroke-linejoin="miter" />
<polyline points="636.2,775.0 674.5,742.5 708.0,778.0" fill="none" stroke="#000" stroke-width="1.10"/>
<polyline points="635.0,790.0 707.5,792.5" fill="none" stroke="#000" stroke-width="1.10"/>
<polyline points="634.5,805.5 671.2,841.2 707.0,807.5" fill="none" stroke="#000" stroke-width="1.10"/>
<polyline points="674.5,738.8 674.5,743.0" fill="none" stroke="#000" stroke-width="2.00"/>
<polyline points="670.8,840.5 670.5,848.8" fill="none" stroke="#000" stroke-width="2.00"/>
<polygon points="427.5,1125.5 475.0,1125.5 475.0,1115.5 580.0,1115.5 580.0,1327.5 515.0,1327.5 515.0,1308.8 487.5,1308.8 487.5,1332.0 432.5,1332.0 432.5,1171.2 427.5,1171.2" fill="url(#xh)" stroke="#333" stroke-width="0.80" stroke-linejoin="miter" />
<polygon points="487.5,1210.5 507.0,1210.5 507.0,1230.0 487.5,1230.0" fill="#cdd9c9" stroke="#333" stroke-width="0.70" stroke-linejoin="miter" />
<polygon points="487.5,1284.5 507.0,1284.5 507.0,1304.5 487.5,1304.5" fill="#cdd9c9" stroke="#333" stroke-width="0.70" stroke-linejoin="miter" />
<polygon points="535.0,1198.8 580.0,1198.8 580.0,1325.5 535.0,1325.5" fill="#ffffff" stroke="#999" stroke-width="0.50" stroke-linejoin="miter" />
<polyline points="538.0,1201.2 538.0,1323.8 578.8,1323.8" fill="none" stroke="#555" stroke-width="0.60" stroke-dasharray="8 4"/>
<polygon points="443.8,1140.5 475.0,1140.5 475.0,1171.2 443.8,1171.2" fill="#b8e4e8" stroke="#2b4a50" stroke-width="0.90" stroke-linejoin="miter" />
<polygon points="449.2,1146.2 470.0,1146.2 470.0,1168.0 449.2,1168.0" fill="#b8e4e8" stroke="#2b4a50" stroke-width="0.60" stroke-linejoin="miter" />
<polygon points="479.5,1233.8 514.5,1233.8 514.5,1280.5 479.5,1280.5" fill="#b8e4e8" stroke="#2b4a50" stroke-width="0.90" stroke-linejoin="miter" />
<polygon points="436.2,1171.2 483.2,1171.2 483.2,1308.2 436.2,1308.2" fill="#b8e4e8" stroke="#2b4a50" stroke-width="0.90" stroke-linejoin="miter" />
<polyline points="486.2,1234.2 486.2,1280.0" fill="none" stroke="#2b4a50" stroke-width="0.60"/>
<polyline points="437.5,1301.2 482.5,1301.2" fill="none" stroke="#2b4a50" stroke-width="0.60"/>
<polygon points="735.5,1050.5 808.8,1050.5 853.8,1095.0 937.5,1095.0 953.0,1081.2 951.2,1175.0 936.2,1158.8 760.5,1158.8 760.5,1084.5 735.5,1084.5" fill="url(#herr)" stroke="#333" stroke-width="0.80" stroke-linejoin="miter" />
<polygon points="780.0,1158.8 798.8,1158.8 798.8,1265.0 765.5,1265.0 765.5,1247.5 780.0,1247.5" fill="none" stroke="#333" stroke-width="0.70" stroke-linejoin="miter" />
<polygon points="782.0,1160.0 797.0,1160.0 797.0,1169.5 782.0,1169.5" fill="url(#stone)" stroke="#444" stroke-width="0.70" stroke-linejoin="miter" />
<polygon points="782.0,1171.2 797.0,1171.2 797.0,1183.8 782.0,1183.8" fill="url(#stone)" stroke="#444" stroke-width="0.70" stroke-linejoin="miter" />
<polygon points="782.0,1187.0 797.0,1187.0 797.0,1199.5 782.0,1199.5" fill="url(#stone)" stroke="#444" stroke-width="0.70" stroke-linejoin="miter" />
<polygon points="782.0,1202.5 797.0,1202.5 797.0,1215.0 782.0,1215.0" fill="url(#stone)" stroke="#444" stroke-width="0.70" stroke-linejoin="miter" />
<polygon points="782.0,1218.2 797.0,1218.2 797.0,1231.2 782.0,1231.2" fill="url(#stone)" stroke="#444" stroke-width="0.70" stroke-linejoin="miter" />
<polygon points="782.0,1234.2 797.0,1234.2 797.0,1247.0 782.0,1247.0" fill="url(#stone)" stroke="#444" stroke-width="0.70" stroke-linejoin="miter" />
<polygon points="782.0,1249.5 797.0,1249.5 797.0,1262.5 782.0,1262.5" fill="url(#stone)" stroke="#444" stroke-width="0.70" stroke-linejoin="miter" />
<polygon points="767.0,1249.5 780.5,1249.5 780.5,1263.0 767.0,1263.0" fill="url(#stone)" stroke="#444" stroke-width="0.70" stroke-linejoin="miter" />
<polygon points="590.0,1031.2 646.2,1031.2 646.2,1037.5 590.0,1037.5" fill="#ffffff" stroke="#333" stroke-width="0.70" stroke-linejoin="miter" />
<polygon points="580.0,1037.5 617.0,1073.8 617.0,1121.2 658.8,1163.0 658.8,1251.2 581.2,1330.0 580.0,1330.0" fill="#ffffff" stroke="#000" stroke-width="1.10" stroke-linejoin="miter" />
<polygon points="580.0,1037.5 653.8,1038.0 617.0,1073.8" fill="#ffffff" stroke="#000" stroke-width="1.10" stroke-linejoin="miter" />
<polygon points="653.8,1038.0 653.8,1084.5 617.0,1121.2 617.0,1073.8" fill="#e6e6e6" stroke="#000" stroke-width="1.10" stroke-linejoin="miter" />
<polygon points="653.8,1038.0 735.0,1038.0 690.0,1083.8 653.8,1084.5" fill="#ffffff" stroke="#000" stroke-width="1.10" stroke-linejoin="miter" />
<polygon points="735.0,1038.0 735.0,1084.5 690.0,1083.8" fill="#e6e6e6" stroke="#000" stroke-width="1.10" stroke-linejoin="miter" />
<polygon points="617.0,1121.2 653.8,1084.5 748.8,1085.0 685.0,1148.8 675.0,1150.0 658.8,1163.0" fill="#ffffff" stroke="#000" stroke-width="1.10" stroke-linejoin="miter" />
<polygon points="748.8,1085.0 748.8,1157.5 722.5,1185.0 685.0,1148.8" fill="#e6e6e6" stroke="#000" stroke-width="1.10" stroke-linejoin="miter" />
<polygon points="749.2,1085.0 760.5,1085.0 760.5,1127.5 749.2,1127.5" fill="#ffffff" stroke="#000" stroke-width="1.10" stroke-linejoin="miter" />
<polygon points="749.2,1127.5 760.5,1127.5 760.5,1156.2 749.2,1156.2" fill="#b3b3b3" stroke="#000" stroke-width="1.10" stroke-linejoin="miter" />
<polygon points="757.5,1156.2 760.5,1156.2 760.5,1170.0 757.5,1170.0" fill="#ffffff" stroke="#000" stroke-width="0.80" stroke-linejoin="miter" />
<polygon points="675.0,1150.0 685.0,1148.8 722.5,1185.5 757.5,1186.2 757.5,1214.5 738.0,1214.5" fill="#b3b3b3" stroke="#000" stroke-width="1.10" stroke-linejoin="miter" />
<polygon points="722.5,1185.0 748.8,1158.0 757.5,1158.0 757.5,1186.2" fill="#ffffff" stroke="#000" stroke-width="1.10" stroke-linejoin="miter" />
<polygon points="658.8,1163.0 675.0,1150.0 738.0,1214.5 738.0,1265.0 706.2,1297.0 658.8,1251.2" fill="#e6e6e6" stroke="#000" stroke-width="1.10" stroke-linejoin="miter" />
<polygon points="581.2,1330.0 658.8,1251.2 706.2,1297.0 759.2,1297.5 759.2,1330.0" fill="#b3b3b3" stroke="#000" stroke-width="1.10" stroke-linejoin="miter" />
<polygon points="706.2,1297.0 735.0,1268.8 759.2,1268.8 759.2,1297.5" fill="#ffffff" stroke="#000" stroke-width="1.10" stroke-linejoin="miter" />
<polygon points="738.0,1235.0 762.5,1235.0 762.5,1256.2 738.0,1256.2" fill="#ffffff" stroke="#000" stroke-width="1.10" stroke-linejoin="miter" />
<polygon points="738.0,1256.2 762.5,1256.2 762.5,1266.2 738.0,1266.2" fill="#b3b3b3" stroke="#000" stroke-width="1.10" stroke-linejoin="miter" />
<polygon points="762.5,1236.2 765.5,1236.2 765.5,1276.2 762.5,1276.2" fill="#ffffff" stroke="#000" stroke-width="0.70" stroke-linejoin="miter" />
<polygon points="532.5,1112.0 580.0,1112.0 622.5,1155.0 532.5,1155.0" fill="#ffffff" stroke="#000" stroke-width="1.10" stroke-linejoin="miter" />
<polygon points="532.5,1155.0 622.5,1155.0 580.0,1198.0 532.5,1198.0" fill="#b3b3b3" stroke="#000" stroke-width="1.10" stroke-linejoin="miter" />
<polyline points="585.0,1042.5 585.0,1325.5" fill="none" stroke="#555" stroke-width="0.60" stroke-dasharray="8 4"/>
<polyline points="655.0,1042.0 729.5,1042.0" fill="none" stroke="#555" stroke-width="0.60" stroke-dasharray="8 4"/>
<polyline points="618.8,1117.5 646.2,1117.5 646.2,1095.0" fill="none" stroke="#555" stroke-width="0.60" stroke-dasharray="8 4"/>
<polyline points="535.0,1119.5 585.0,1119.5 585.0,1153.8" fill="none" stroke="#555" stroke-width="0.60" stroke-dasharray="8 4"/>
<polyline points="733.8,1270.0 757.5,1270.0" fill="none" stroke="#555" stroke-width="0.60" stroke-dasharray="8 4"/>
<polygon points="580.0,1037.5 735.0,1037.5 735.0,1084.5 760.5,1084.5 760.5,1170.0 757.5,1170.0 757.5,1214.5 738.0,1214.5 738.0,1235.0 762.5,1235.0 762.5,1266.2 759.2,1268.8 759.2,1330.0 580.0,1330.0 580.0,1198.0 532.5,1198.0 532.5,1112.0 580.0,1112.0" fill="none" stroke="#000" stroke-width="2.20" stroke-linejoin="miter"/>
<polygon points="1209.5,376.4 1227.7,376.4 1227.7,369.0 1260.9,369.8 1260.9,377.3 1269.2,378.1 1394.7,380.6 1394.7,373.4 1426.7,374.4 1426.7,381.7 1437.8,382.2 1437.0,448.1 1424.5,448.1 1424.5,456.4 1393.0,455.2 1393.0,447.7 1375.3,447.4 1374.3,500.8 1275.0,499.1 1276.1,444.7 1259.5,444.4 1258.7,451.9 1226.0,450.7 1226.0,443.1 1207.8,442.8" fill="url(#xh)" stroke="#333" stroke-width="0.80" stroke-linejoin="miter" />
<polygon points="1268.7,381.7 1386.4,384.4 1384.7,443.6 1267.5,440.3" fill="#b8e4e8" stroke="#2b4a50" stroke-width="0.90" stroke-linejoin="miter" />
<polygon points="1302.7,441.9 1349.4,442.8 1348.3,473.9 1301.8,472.6" fill="#b8e4e8" stroke="#2b4a50" stroke-width="0.90" stroke-linejoin="miter" />
<polygon points="1394.2,398.8 1425.7,399.6 1424.5,430.3 1393.4,429.5" fill="#b8e4e8" stroke="#2b4a50" stroke-width="0.90" stroke-linejoin="miter" />
<polygon points="1399.7,404.6 1419.9,405.4 1419.2,424.8 1399.2,424.2" fill="#b8e4e8" stroke="#2b4a50" stroke-width="0.60" stroke-linejoin="miter" />
<polygon points="1437.8,434.5 1453.9,434.8 1453.5,448.6 1437.3,448.1" fill="url(#stone)" stroke="#444" stroke-width="0.70" stroke-linejoin="miter" />
<polygon points="1455.5,434.5 1467.3,434.8 1466.8,449.1 1455.2,448.7" fill="url(#stone)" stroke="#444" stroke-width="0.70" stroke-linejoin="miter" />
<polygon points="1455.0,464.4 1466.1,464.6 1465.7,478.1 1454.6,477.9" fill="url(#stone)" stroke="#444" stroke-width="0.70" stroke-linejoin="miter" />
<polygon points="1454.6,481.0 1465.7,481.3 1465.3,494.8 1454.2,494.6" fill="url(#stone)" stroke="#444" stroke-width="0.70" stroke-linejoin="miter" />
<polygon points="1454.2,497.1 1465.3,497.3 1464.9,510.4 1453.8,510.2" fill="url(#stone)" stroke="#444" stroke-width="0.70" stroke-linejoin="miter" />
<polygon points="1453.8,512.9 1464.9,513.2 1464.5,526.5 1453.4,526.3" fill="url(#stone)" stroke="#444" stroke-width="0.70" stroke-linejoin="miter" />
<polygon points="1453.4,528.4 1464.5,528.6 1464.1,542.1 1453.0,541.9" fill="url(#stone)" stroke="#444" stroke-width="0.70" stroke-linejoin="miter" />
<polygon points="1453.0,544.2 1464.1,544.4 1463.7,557.4 1452.6,557.1" fill="url(#stone)" stroke="#444" stroke-width="0.70" stroke-linejoin="miter" />
<polygon points="1452.7,559.2 1463.7,559.4 1463.3,572.6 1452.3,572.4" fill="url(#stone)" stroke="#444" stroke-width="0.70" stroke-linejoin="miter" />
<polygon points="1452.3,574.9 1463.3,575.1 1462.9,587.6 1451.9,587.4" fill="url(#stone)" stroke="#444" stroke-width="0.70" stroke-linejoin="miter" />
<polygon points="1451.9,589.5 1463.0,589.7 1462.5,602.8 1451.5,602.6" fill="url(#stone)" stroke="#444" stroke-width="0.70" stroke-linejoin="miter" />
<polygon points="1451.5,604.7 1462.6,604.9 1462.2,617.8 1451.1,617.6" fill="url(#stone)" stroke="#444" stroke-width="0.70" stroke-linejoin="miter" />
<polygon points="1451.2,619.3 1462.2,619.5 1461.8,632.8 1450.8,632.6" fill="url(#stone)" stroke="#444" stroke-width="0.70" stroke-linejoin="miter" />
<polygon points="1450.8,634.7 1461.8,634.9 1461.4,648.1 1450.4,647.9" fill="url(#stone)" stroke="#444" stroke-width="0.70" stroke-linejoin="miter" />
<polygon points="1450.4,649.9 1461.5,650.1 1461.0,663.3 1450.0,663.1" fill="url(#stone)" stroke="#444" stroke-width="0.70" stroke-linejoin="miter" />
<polygon points="1450.0,665.2 1461.1,665.4 1460.7,678.3 1449.6,678.1" fill="url(#stone)" stroke="#444" stroke-width="0.70" stroke-linejoin="miter" />
<polygon points="1449.6,680.2 1460.7,680.4 1460.3,692.9 1449.2,692.7" fill="url(#stone)" stroke="#444" stroke-width="0.70" stroke-linejoin="miter" />
<polygon points="1308.3,673.9 1329.1,674.3 1328.9,684.3 1308.1,683.9" fill="url(#stone)" stroke="#444" stroke-width="0.70" stroke-linejoin="miter" />
<polygon points="1307.2,685.4 1329.8,685.8 1329.5,704.6 1307.0,704.1" fill="url(#stone)" stroke="#444" stroke-width="0.70" stroke-linejoin="miter" />
<polygon points="1306.8,706.2 1330.2,706.7 1330.0,724.4 1306.6,724.0" fill="url(#stone)" stroke="#444" stroke-width="0.70" stroke-linejoin="miter" />
<polygon points="1306.4,726.0 1330.2,726.5 1330.0,742.1 1306.2,741.7" fill="url(#stone)" stroke="#444" stroke-width="0.70" stroke-linejoin="miter" />
<polygon points="1306.2,743.8 1329.8,744.2 1329.5,758.8 1306.0,758.4" fill="url(#stone)" stroke="#444" stroke-width="0.70" stroke-linejoin="miter" />
<polygon points="1305.6,760.4 1329.1,760.9 1328.9,776.5 1305.4,776.1" fill="url(#stone)" stroke="#444" stroke-width="0.70" stroke-linejoin="miter" />
<polygon points="1305.6,777.8 1328.5,778.2 1328.3,793.2 1305.4,792.8" fill="url(#stone)" stroke="#444" stroke-width="0.70" stroke-linejoin="miter" />
<polygon points="1279.7,777.1 1303.5,777.5 1303.3,792.6 1279.5,792.1" fill="url(#stone)" stroke="#444" stroke-width="0.70" stroke-linejoin="miter" />
<polyline points="1289.5,664.5 1296.4,664.7 1295.8,705.2 1342.7,706.2 1342.7,690.6" fill="none" stroke="#888" stroke-width="0.70" stroke-dasharray="8 4"/>
<polygon points="1156.7,745.2 1192.1,745.2 1192.6,756.9 1278.5,759.4 1276.0,927.0 1290.0,946.0 1187.0,946.0 1204.0,922.0 1204.0,867.0 1156.0,820.0" fill="url(#herr2)" stroke="#333" stroke-width="0.80" stroke-linejoin="miter" />
<polygon points="1271.8,499.8 1374.0,501.9 1374.0,554.0 1271.4,551.9" fill="#ffffff" stroke="#888" stroke-width="0.60" stroke-linejoin="miter" />
<polyline points="1274.3,501.9 1273.9,550.9" fill="none" stroke="#555" stroke-width="0.60" stroke-dasharray="8 4"/>
<polyline points="1371.9,503.4 1372.9,553.0" fill="none" stroke="#555" stroke-width="0.60" stroke-dasharray="8 4"/>
<polygon points="1198.4,499.8 1239.5,542.1 1239.5,551.9 1220.7,551.9 1217.6,651.4 1234.3,652.0 1244.7,663.5 1244.7,706.2 1192.6,756.3 1192.1,745.2 1236.3,703.1 1195.1,658.3" fill="#b3b3b3" stroke="#000" stroke-width="1.10" stroke-linejoin="miter" />
<polygon points="1198.4,499.8 1271.8,500.9 1271.8,514.4 1239.5,542.1" fill="#e6e6e6" stroke="#000" stroke-width="1.10" stroke-linejoin="miter" />
<polygon points="1239.5,542.1 1271.8,514.4 1271.8,551.9 1239.5,551.9" fill="#ffffff" stroke="#000" stroke-width="1.10" stroke-linejoin="miter" />
<polyline points="1255.1,551.9 1271.8,515.9" fill="none" stroke="#000" stroke-width="1.00"/>
<polygon points="1198.4,499.8 1271.8,500.9 1271.8,551.9 1220.7,551.9 1217.6,651.4 1195.1,658.3" fill="none" stroke="#000" stroke-width="2.20" stroke-linejoin="miter"/>
<polygon points="1366.7,490.4 1449.0,492.5 1406.3,532.1" fill="#e6e6e6" stroke="#000" stroke-width="1.10" stroke-linejoin="miter" />
<polygon points="1366.7,490.4 1406.3,532.1 1405.2,572.2 1390.6,571.7 1390.6,555.5 1381.3,554.6 1375.6,500.9 1366.7,499.8" fill="#b3b3b3" stroke="#000" stroke-width="1.10" stroke-linejoin="miter" />
<polygon points="1449.0,492.5 1445.9,572.8 1405.2,572.2 1406.3,532.1" fill="#ffffff" stroke="#000" stroke-width="1.10" stroke-linejoin="miter" />
<polyline points="1440.7,502.9 1438.6,567.6" fill="none" stroke="#555" stroke-width="0.60" stroke-dasharray="8 4"/>
<polygon points="1366.7,490.4 1449.0,492.5 1445.9,572.8 1390.6,571.7 1390.6,555.5 1381.3,554.6 1375.6,500.9 1366.7,499.8" fill="none" stroke="#000" stroke-width="2.20" stroke-linejoin="miter"/>
<polygon points="1149.8,657.2 1191.5,701.0 1147.7,744.4" fill="#b3b3b3" stroke="#000" stroke-width="1.10" stroke-linejoin="miter" />
<polygon points="1149.8,657.2 1195.1,658.3 1236.3,703.1 1191.5,701.0" fill="#ffffff" stroke="#000" stroke-width="1.10" stroke-linejoin="miter" />
<polygon points="1147.7,744.4 1191.5,701.0 1236.3,703.1 1192.1,745.2" fill="#ffffff" stroke="#000" stroke-width="1.10" stroke-linejoin="miter" />
<polyline points="1157.1,664.5 1198.8,665.6" fill="none" stroke="#555" stroke-width="0.60" stroke-dasharray="8 4"/>
<polyline points="1155.0,737.5 1194.6,738.6" fill="none" stroke="#555" stroke-width="0.60" stroke-dasharray="8 4"/>
<polygon points="1149.8,657.2 1195.1,658.3 1236.3,703.1 1192.1,745.2 1147.7,744.4" fill="none" stroke="#000" stroke-width="2.20" stroke-linejoin="miter"/>
<polygon points="1234.3,652.0 1255.1,654.1 1244.7,663.5" fill="#e6e6e6" stroke="#000" stroke-width="1.10" stroke-linejoin="miter" />
<polygon points="1244.3,707.3 1244.7,663.5 1255.1,654.1 1279.1,653.1 1279.1,671.8 1296.8,672.2 1294.3,759.4" fill="#ffffff" stroke="#000" stroke-width="1.10" stroke-linejoin="miter" />
<polygon points="1192.6,756.3 1244.3,707.3 1294.3,759.4" fill="#ffffff" stroke="#000" stroke-width="1.10" stroke-linejoin="miter" />
<polyline points="1288.5,673.9 1286.8,751.1 1200.9,749.0" fill="none" stroke="#555" stroke-width="0.60" stroke-dasharray="8 4"/>
<polyline points="1279.1,671.8 1296.8,672.2 1294.3,759.4 1192.6,756.3" fill="none" stroke="#000" stroke-width="2.20" stroke-linejoin="miter"/>
<polygon points="1380.2,656.8 1402.1,657.2 1402.1,680.2 1395.9,685.4 1394.8,731.3 1359.4,764.6 1360.4,698.5 1379.2,698.5" fill="#b3b3b3" stroke="#000" stroke-width="1.10" stroke-linejoin="miter" />
<polygon points="1402.1,657.2 1442.8,657.7 1441.7,719.8 1402.1,680.2" fill="#ffffff" stroke="#000" stroke-width="1.10" stroke-linejoin="miter" />
<polygon points="1395.9,685.4 1402.1,680.2 1441.7,719.8 1441.7,721.9 1430.3,721.9 1395.9,688.5" fill="#ffffff" stroke="#000" stroke-width="1.10" stroke-linejoin="miter" />
<polygon points="1395.9,688.5 1429.2,721.9 1428.2,766.1 1394.8,731.3" fill="#ffffff" stroke="#000" stroke-width="1.10" stroke-linejoin="miter" />
<polygon points="1359.4,764.6 1394.8,731.3 1428.2,766.1" fill="#ffffff" stroke="#000" stroke-width="1.10" stroke-linejoin="miter" />
<polyline points="1436.5,661.4 1435.5,713.5" fill="none" stroke="#555" stroke-width="0.60" stroke-dasharray="8 4"/>
<polyline points="1423.0,724.0 1421.9,757.3 1367.7,756.3" fill="none" stroke="#555" stroke-width="0.60" stroke-dasharray="8 4"/>
<polygon points="1379.2,656.2 1442.8,657.2 1442.3,721.9 1429.8,721.9 1428.2,766.7 1358.9,765.2 1360.4,697.9 1379.2,697.9" fill="none" stroke="#000" stroke-width="2.20" stroke-linejoin="miter"/>
<polygon points="1390.6,556.1 1390.6,572.8 1340.6,621.8 1336.4,619.3 1335.4,607.6" fill="#ffffff" stroke="#000" stroke-width="1.10" stroke-linejoin="miter" />
<polygon points="1390.6,572.8 1445.9,573.8 1404.2,614.5 1357.3,613.4 1347.9,622.2 1340.6,621.8" fill="#e6e6e6" stroke="#000" stroke-width="1.10" stroke-linejoin="miter" />
<polygon points="1445.9,573.8 1442.8,656.8 1404.2,614.5" fill="#ffffff" stroke="#000" stroke-width="1.10" stroke-linejoin="miter" />
<polygon points="1357.3,613.4 1404.2,614.5 1442.8,656.8 1379.2,655.6 1380.2,637.4" fill="#ffffff" stroke="#000" stroke-width="1.10" stroke-linejoin="miter" />
<polyline points="1438.2,580.1 1436.5,651.0" fill="none" stroke="#555" stroke-width="0.60" stroke-dasharray="8 4"/>
<polyline points="1390.6,572.2 1445.9,573.8 1442.8,656.8 1379.2,655.6" fill="none" stroke="#000" stroke-width="2.20" stroke-linejoin="miter"/>
<polygon points="1335.4,619.3 1348.9,622.8 1355.2,633.3 1329.8,656.8 1329.1,672.9 1279.1,671.4 1280.1,652.6" fill="#ffffff" stroke="#000" stroke-width="1.10" stroke-linejoin="miter" />
<polygon points="1348.9,622.8 1357.3,613.4 1380.2,637.4 1379.2,697.9 1355.2,673.9 1355.2,633.3" fill="#ffffff" stroke="#000" stroke-width="1.10" stroke-linejoin="miter" />
<polygon points="1355.2,633.3 1355.2,673.9 1329.1,697.9 1329.8,656.8" fill="#b3b3b3" stroke="#000" stroke-width="1.10" stroke-linejoin="miter" />
<polygon points="1355.2,673.9 1379.2,697.9 1329.1,697.9" fill="#ffffff" stroke="#000" stroke-width="1.10" stroke-linejoin="miter" />
<polyline points="1279.1,671.4 1329.1,672.9 1329.1,697.9 1379.2,697.9" fill="none" stroke="#000" stroke-width="2.00" stroke-linejoin="miter"/>
<polygon points="1220.7,551.9 1390.6,555.5 1335.4,607.6 1330.2,604.7 1268.7,603.0" fill="#e6e6e6" stroke="#000" stroke-width="1.10" stroke-linejoin="miter" />
<polygon points="1220.7,551.9 1268.7,603.0 1217.6,651.4" fill="#b3b3b3" stroke="#000" stroke-width="1.10" stroke-linejoin="miter" />
<polygon points="1217.6,651.4 1268.7,603.0 1330.2,604.7 1333.3,608.2 1280.1,652.6" fill="#ffffff" stroke="#000" stroke-width="1.10" stroke-linejoin="miter" />
<polygon points="1330.2,604.7 1335.4,607.6 1335.4,619.3 1279.1,671.4 1280.1,652.6" fill="#b3b3b3" stroke="#000" stroke-width="1.10" stroke-linejoin="miter" />
<polygon points="1220.7,551.9 1390.6,555.5 1335.4,607.6 1335.4,619.3 1279.1,671.4 1280.1,652.6 1217.6,651.4" fill="none" stroke="#000" stroke-width="2.20" stroke-linejoin="miter"/>
<polygon points="1530.2,410.2 1840.3,418.1 1838.8,485.5 1779.4,483.8 1779.0,514.7 1724.1,513.0 1724.8,481.7 1710.6,481.3 1711.0,464.0 1527.5,459.2" fill="url(#xh)" stroke="#333" stroke-width="0.80" stroke-linejoin="miter" />
<polygon points="1729.4,419.6 1836.1,422.3 1834.7,480.1 1775.7,478.6 1774.8,510.5 1727.7,509.3" fill="#b8e4e8" stroke="#2b4a50" stroke-width="0.90" stroke-linejoin="miter" />
<polyline points="1729.4,471.3 1779.4,472.4 1779.0,478.6" fill="none" stroke="#2b4a50" stroke-width="0.60"/>
<polyline points="1729.4,475.1 1775.7,475.9" fill="none" stroke="#2b4a50" stroke-width="0.60"/>
<polyline points="1830.5,423.4 1829.0,479.7" fill="none" stroke="#2b4a50" stroke-width="0.60"/>
<polygon points="1694.3,432.7 1725.2,433.4 1724.8,463.4 1693.9,462.6" fill="#b8e4e8" stroke="#2b4a50" stroke-width="0.90" stroke-linejoin="miter" />
<polygon points="1699.1,438.4 1720.0,439.0 1719.4,458.4 1698.7,457.8" fill="#b8e4e8" stroke="#2b4a50" stroke-width="0.60" stroke-linejoin="miter" />
<polygon points="1495.0,651.0 1522.0,651.0 1521.0,765.5 1518.0,766.0 1518.0,774.0 1543.0,774.0 1543.0,769.0 1610.0,770.0 1608.4,930.7 1623.0,946.0 1523.0,946.0 1539.6,930.0 1542.3,798.0 1495.0,797.6" fill="url(#herr2)" stroke="#333" stroke-width="0.80" stroke-linejoin="miter" />
<polygon points="1698.1,700.3 1712.7,700.5 1712.7,716.1 1698.1,715.9" fill="url(#stone)" stroke="#444" stroke-width="0.70" stroke-linejoin="miter" />
<polygon points="1699.1,718.4 1714.8,718.6 1714.8,728.2 1699.1,728.0" fill="url(#stone)" stroke="#444" stroke-width="0.70" stroke-linejoin="miter" />
<polygon points="1699.1,730.1 1714.8,730.3 1714.8,739.5 1699.1,739.3" fill="url(#stone)" stroke="#444" stroke-width="0.70" stroke-linejoin="miter" />
<polygon points="1698.5,740.9 1714.8,741.1 1714.8,750.5 1698.5,750.3" fill="url(#stone)" stroke="#444" stroke-width="0.70" stroke-linejoin="miter" />
<polygon points="1698.1,751.8 1714.3,752.0 1714.3,761.6 1698.1,761.4" fill="url(#stone)" stroke="#444" stroke-width="0.70" stroke-linejoin="miter" />
<polygon points="1698.1,763.0 1714.3,763.2 1714.3,772.4 1698.1,772.2" fill="url(#stone)" stroke="#444" stroke-width="0.70" stroke-linejoin="miter" />
<polygon points="1610.9,772.6 1633.4,773.5 1633.0,793.1 1610.5,792.2" fill="url(#stone)" stroke="#444" stroke-width="0.70" stroke-linejoin="miter" />
<polygon points="1635.9,772.6 1655.3,773.5 1654.9,793.1 1635.5,792.2" fill="url(#stone)" stroke="#444" stroke-width="0.70" stroke-linejoin="miter" />
<polygon points="1656.8,772.6 1676.2,773.5 1675.8,793.1 1656.4,792.2" fill="url(#stone)" stroke="#444" stroke-width="0.70" stroke-linejoin="miter" />
<polygon points="1678.3,772.6 1697.0,773.5 1696.6,793.1 1677.9,792.2" fill="url(#stone)" stroke="#444" stroke-width="0.70" stroke-linejoin="miter" />
<polygon points="1699.1,772.6 1721.0,773.5 1720.6,793.1 1698.7,792.2" fill="url(#stone)" stroke="#444" stroke-width="0.70" stroke-linejoin="miter" />
<polyline points="1623.0,696.1 1624.1,749.3 1688.7,750.3 1690.2,697.1" fill="none" stroke="#888" stroke-width="0.70" stroke-dasharray="8 4"/>
<polyline points="1633.4,761.8 1733.5,763.9 1733.9,750.3 1724.1,749.7 1724.8,724.3" fill="none" stroke="#888" stroke-width="0.70" stroke-dasharray="8 4"/>
<polygon points="1683.5,754.5 1695.0,754.7 1695.0,758.0 1683.5,757.8" fill="#ffffff" stroke="#777" stroke-width="0.50" stroke-linejoin="miter" />
<polygon points="1717.9,755.1 1729.4,755.3 1729.4,758.7 1717.9,758.5" fill="#ffffff" stroke="#777" stroke-width="0.50" stroke-linejoin="miter" />
<polygon points="1707.5,610.6 1745.0,611.0 1790.9,659.0 1781.5,667.7 1761.7,661.1 1726.9,660.0 1726.9,620.4 1707.5,620.4" fill="#e6e6e6" stroke="#000" stroke-width="1.10" stroke-linejoin="miter" />
<polygon points="1527.1,459.2 1608.8,545.3 1523.4,632.3" fill="#b3b3b3" stroke="#000" stroke-width="1.10" stroke-linejoin="miter" />
<polygon points="1527.1,459.2 1711.0,464.0 1624.7,546.0 1608.8,545.3" fill="#e6e6e6" stroke="#000" stroke-width="1.10" stroke-linejoin="miter" />
<polygon points="1711.0,464.0 1707.5,620.4 1693.9,619.4 1624.7,546.0" fill="#ffffff" stroke="#000" stroke-width="1.10" stroke-linejoin="miter" />
<polygon points="1608.8,545.3 1624.7,546.0 1692.9,619.4 1659.5,610.0 1625.1,618.3 1581.3,571.4" fill="#ffffff" stroke="#000" stroke-width="1.10" stroke-linejoin="miter" />
<polygon points="1523.4,632.3 1581.3,571.4 1581.7,576.0 1619.3,619.4 1619.3,634.4" fill="#ffffff" stroke="#000" stroke-width="1.10" stroke-linejoin="miter" />
<polygon points="1581.3,571.4 1581.7,576.0 1623.0,618.3 1625.1,618.3" fill="#ffffff" stroke="none" stroke-width="0.00" stroke-linejoin="miter" />
<polyline points="1581.7,576.0 1623.0,617.7" fill="none" stroke="#000" stroke-width="1.00"/>
<polyline points="1581.3,571.4 1625.1,618.3" fill="none" stroke="#000" stroke-width="1.00"/>
<polyline points="1563.6,469.7 1604.3,470.5 1604.3,467.6 1700.2,470.3 1699.1,477.6 1705.4,478.0 1703.3,527.6" fill="none" stroke="#555" stroke-width="0.60" stroke-dasharray="8 4"/>
<polyline points="1646.0,527.2 1700.2,529.3 1696.0,617.3" fill="none" stroke="#555" stroke-width="0.60" stroke-dasharray="8 4"/>
<polygon points="1527.1,459.2 1711.0,464.0 1707.5,620.4 1693.9,619.4 1659.5,610.0 1625.1,618.3 1619.3,619.4 1619.3,634.4 1523.4,632.3" fill="none" stroke="#000" stroke-width="2.20" stroke-linejoin="miter"/>
<polygon points="1524.6,633.6 1579.2,634.2 1578.8,711.7 1521.3,764.9" fill="#b3b3b3" stroke="#000" stroke-width="1.10" stroke-linejoin="miter" />
<polygon points="1579.2,634.2 1619.3,635.0 1619.3,695.1 1633.4,695.5 1631.8,768.5 1578.8,711.7" fill="#ffffff" stroke="#000" stroke-width="1.10" stroke-linejoin="miter" />
<polygon points="1521.3,764.9 1578.8,711.7 1631.8,768.5" fill="#ffffff" stroke="#000" stroke-width="1.10" stroke-linejoin="miter" />
<polyline points="1538.6,757.6 1623.0,759.3 1624.7,696.1" fill="none" stroke="#555" stroke-width="0.60" stroke-dasharray="8 4"/>
<polygon points="1518.3,766.0 1542.7,766.4 1542.7,773.9 1518.3,773.5" fill="#cdd9c9" stroke="#333" stroke-width="0.70" stroke-linejoin="miter" />
<polygon points="1524.6,632.9 1619.3,634.6 1618.9,695.1 1633.4,695.5 1631.8,769.1 1520.9,765.5" fill="none" stroke="#000" stroke-width="2.20" stroke-linejoin="miter"/>
<polygon points="1747.7,544.3 1840.9,546.4 1793.0,590.6" fill="#e6e6e6" stroke="#000" stroke-width="1.10" stroke-linejoin="miter" />
<polygon points="1747.7,544.3 1793.0,590.6 1790.9,659.0 1745.0,611.0" fill="#b3b3b3" stroke="#000" stroke-width="1.10" stroke-linejoin="miter" />
<polygon points="1840.9,546.4 1835.7,725.3 1782.5,668.4 1790.9,659.0 1793.0,590.6" fill="#ffffff" stroke="#000" stroke-width="1.10" stroke-linejoin="miter" />
<polygon points="1714.8,721.1 1782.5,668.4 1835.7,725.3" fill="#ffffff" stroke="#000" stroke-width="1.10" stroke-linejoin="miter" />
<polygon points="1726.9,660.7 1761.7,661.7 1725.6,696.1" fill="#ffffff" stroke="#000" stroke-width="1.10" stroke-linejoin="miter" />
<polygon points="1761.7,661.7 1767.9,667.5 1713.7,720.1 1712.7,699.2" fill="#b3b3b3" stroke="#000" stroke-width="1.10" stroke-linejoin="miter" />
<polygon points="1767.9,667.5 1782.5,668.4 1714.8,721.1 1713.7,720.1" fill="#ffffff" stroke="#000" stroke-width="0.80" stroke-linejoin="miter" />
<polygon points="1761.7,661.3 1781.5,667.7 1782.9,668.8 1767.9,667.9" fill="#ffffff" stroke="none" stroke-width="0.00" stroke-linejoin="miter" />
<polyline points="1761.7,661.1 1781.5,667.7" fill="none" stroke="#000" stroke-width="1.00"/>
<polyline points="1806.5,578.7 1830.5,579.3 1826.3,711.1" fill="none" stroke="#555" stroke-width="0.60" stroke-dasharray="8 4"/>
<polyline points="1724.1,713.8 1826.3,716.3" fill="none" stroke="#555" stroke-width="0.60" stroke-dasharray="8 4"/>
<polyline points="1745.0,611.0 1747.7,544.3 1840.9,546.4 1835.7,725.3 1712.3,721.1 1712.7,699.2" fill="none" stroke="#000" stroke-width="2.20" stroke-linejoin="miter"/>
<polyline points="1707.5,610.6 1745.0,611.0" fill="none" stroke="#000" stroke-width="1.60" stroke-linejoin="miter"/>
<polygon points="1625.1,618.3 1659.5,610.0 1692.9,619.4" fill="#ffffff" stroke="#000" stroke-width="0.90" stroke-linejoin="miter" />
<polyline points="1660.1,610.6 1660.1,618.9" fill="none" stroke="#000" stroke-width="0.90"/>
<polygon points="1619.9,618.3 1726.9,620.4 1725.2,696.5 1617.8,694.8" fill="#ffffff" stroke="#000" stroke-width="1.50" stroke-linejoin="miter" />
<polygon points="1625.1,621.9 1724.1,623.9 1722.7,693.4 1624.1,691.9" fill="#ffffff" stroke="#000" stroke-width="1.50" stroke-linejoin="miter" />
<polyline points="1674.7,622.5 1673.1,693.4" fill="none" stroke="#000" stroke-width="1.10"/>
<polyline points="1625.1,656.9 1660.6,622.3" fill="none" stroke="#000" stroke-width="1.10"/>
<polyline points="1688.7,623.1 1724.1,659.0" fill="none" stroke="#000" stroke-width="1.10"/>
<polyline points="1625.1,657.9 1659.5,692.8" fill="none" stroke="#000" stroke-width="1.10"/>
<polyline points="1724.1,660.0 1687.7,693.4" fill="none" stroke="#000" stroke-width="1.10"/>
<polyline points="1617.2,656.9 1625.1,657.1" fill="none" stroke="#000" stroke-width="2.20"/>
<polyline points="1723.5,659.4 1726.9,659.6" fill="none" stroke="#000" stroke-width="2.20"/>
<polygon points="1929.6,455.7 2073.5,459.2 2074.3,414.6 2200.1,417.5 2198.6,484.9 2147.9,483.8 2146.5,520.3 2140.2,520.3 2138.6,608.9 2059.3,607.9 2063.1,467.1 1929.2,463.4" fill="url(#xh)" stroke="#333" stroke-width="0.80" stroke-linejoin="miter" />
<polygon points="2061.0,567.7 2084.3,568.3 2083.3,607.3 2059.7,606.9" fill="#cdd9c9" stroke="#333" stroke-width="0.70" stroke-linejoin="miter" />
<polygon points="2115.6,568.9 2138.6,569.3 2138.1,608.9 2115.2,608.5" fill="#cdd9c9" stroke="#333" stroke-width="0.70" stroke-linejoin="miter" />
<polygon points="2078.5,418.8 2195.9,421.7 2194.4,480.1 2128.5,478.6 2126.0,548.9 2075.0,547.4" fill="#b8e4e8" stroke="#2b4a50" stroke-width="0.90" stroke-linejoin="miter" />
<polyline points="2081.8,419.2 2080.6,474.4 2128.1,475.5" fill="none" stroke="#2b4a50" stroke-width="0.60"/>
<polyline points="2084.3,419.2 2083.1,471.9 2128.1,473.0" fill="none" stroke="#2b4a50" stroke-width="0.60"/>
<polyline points="2086.8,419.2 2085.6,469.4 2128.1,470.5" fill="none" stroke="#2b4a50" stroke-width="0.60"/>
<polyline points="2089.3,419.2 2088.1,466.9 2128.1,468.0" fill="none" stroke="#2b4a50" stroke-width="0.60"/>
<polyline points="2076.0,516.1 2127.1,517.6" fill="none" stroke="#2b4a50" stroke-width="0.60"/>
<polyline points="2076.0,519.3 2127.1,520.7" fill="none" stroke="#2b4a50" stroke-width="0.60"/>
<polyline points="2077.0,477.2 2128.1,478.6" fill="none" stroke="#2b4a50" stroke-width="0.60"/>
<polygon points="1896.3,648.8 1917.5,649.0 1915.4,760.0 2005.0,761.8 2001.0,928.6 2015.5,946.0 1906.0,946.0 1922.7,928.6 1924.0,826.0 1893.0,825.4" fill="url(#herr2)" stroke="#333" stroke-width="0.80" stroke-linejoin="miter" />
<polygon points="2026.0,763.9 2041.0,764.1 2041.0,771.2 2026.0,771.0" fill="url(#stone)" stroke="#444" stroke-width="0.70" stroke-linejoin="miter" />
<polygon points="2025.5,773.3 2041.0,773.5 2041.0,780.1 2025.5,779.9" fill="url(#stone)" stroke="#444" stroke-width="0.70" stroke-linejoin="miter" />
<polygon points="2025.5,782.2 2040.6,782.4 2040.6,789.3 2025.5,789.1" fill="url(#stone)" stroke="#444" stroke-width="0.70" stroke-linejoin="miter" />
<polygon points="2005.1,791.0 2051.4,792.0 2050.6,810.8 2004.7,809.7" fill="url(#stone)" stroke="#444" stroke-width="0.70" stroke-linejoin="miter" />
<polygon points="2059.3,607.9 2080.6,608.5 2080.6,603.7 2116.7,604.8 2116.7,609.4 2138.6,609.4 2182.3,655.9 2179.2,661.1 2160.4,660.0 2140.6,677.3 1988.4,672.5" fill="#e6e6e6" stroke="#000" stroke-width="1.10" stroke-linejoin="miter" />
<polyline points="2059.3,607.9 2080.6,608.5 2080.6,603.7 2116.7,604.8 2116.7,609.4 2138.6,609.4" fill="none" stroke="#000" stroke-width="2.00" stroke-linejoin="miter"/>
<polygon points="1922.7,463.0 1990.9,533.9 1988.4,672.5 1967.6,691.9 1967.6,709.7 1944.6,731.6 1944.2,760.1 1915.4,760.1" fill="#b3b3b3" stroke="#000" stroke-width="1.10" stroke-linejoin="miter" />
<polygon points="1922.7,463.0 2063.1,467.1 1990.9,533.9" fill="#e6e6e6" stroke="#000" stroke-width="1.10" stroke-linejoin="miter" />
<polygon points="2063.1,467.1 2059.3,607.9 1988.4,672.5 1990.9,533.9" fill="#ffffff" stroke="#000" stroke-width="1.10" stroke-linejoin="miter" />
<polyline points="1999.9,531.8 2056.2,533.0 2053.1,611.0" fill="none" stroke="#555" stroke-width="0.60" stroke-dasharray="8 4"/>
<polygon points="2140.6,520.3 2232.4,522.4 2184.8,566.8" fill="#e6e6e6" stroke="#000" stroke-width="1.10" stroke-linejoin="miter" />
<polygon points="2140.6,520.3 2184.8,566.8 2182.3,655.9 2138.6,609.4" fill="#b3b3b3" stroke="#000" stroke-width="1.10" stroke-linejoin="miter" />
<polygon points="2232.4,522.4 2226.1,710.1 2179.2,661.1 2182.3,655.9 2184.8,566.8" fill="#ffffff" stroke="#000" stroke-width="1.10" stroke-linejoin="miter" />
<polyline points="2196.9,551.0 2225.1,551.8 2220.3,702.8 2209.4,702.3" fill="none" stroke="#555" stroke-width="0.60" stroke-dasharray="8 4"/>
<polygon points="1967.6,691.9 1988.4,673.2 2140.6,677.3 2170.9,710.7 2170.9,755.5 2134.8,755.5 2134.8,745.1 2056.2,744.1 2055.1,762.8 1944.2,760.1 1944.6,731.6" fill="#ffffff" stroke="#000" stroke-width="1.10" stroke-linejoin="miter" />
<polyline points="1967.6,691.9 2011.8,738.9" fill="none" stroke="#000" stroke-width="1.00"/>
<polyline points="1967.6,709.7 2011.4,754.5" fill="none" stroke="#000" stroke-width="1.00"/>
<polyline points="1944.6,731.6 1971.7,760.1" fill="none" stroke="#000" stroke-width="1.00"/>
<polyline points="1967.6,691.9 1967.6,709.7" fill="none" stroke="#000" stroke-width="1.00"/>
<polyline points="1944.6,731.6 1967.6,709.7" fill="none" stroke="#000" stroke-width="1.00"/>
<polygon points="2012.4,729.5 2035.3,707.6 2033.9,760.7 2012.4,760.1" fill="#b3b3b3" stroke="#000" stroke-width="1.10" stroke-linejoin="miter" />
<polygon points="2035.3,707.6 2056.8,730.5 2055.1,762.8 2033.9,760.7" fill="#ffffff" stroke="#000" stroke-width="1.10" stroke-linejoin="miter" />
<polygon points="2136.5,743.4 2170.9,711.3 2170.9,755.5 2134.8,755.5" fill="#b3b3b3" stroke="#000" stroke-width="1.10" stroke-linejoin="miter" />
<polygon points="2170.9,710.7 2140.6,677.3 2160.4,660.0 2207.4,710.1 2205.7,757.6 2170.9,755.5" fill="#ffffff" stroke="#000" stroke-width="1.10" stroke-linejoin="miter" />
<polygon points="2160.4,660.0 2179.2,661.3 2226.1,710.1 2207.4,710.1" fill="#ffffff" stroke="#000" stroke-width="1.10" stroke-linejoin="miter" />
<polyline points="2045.8,713.8 2045.8,736.8 2138.6,739.3" fill="none" stroke="#555" stroke-width="0.60" stroke-dasharray="8 4"/>
<polyline points="2202.1,711.7 2200.1,753.4 2171.9,752.6" fill="none" stroke="#555" stroke-width="0.60" stroke-dasharray="8 4"/>
<polyline points="1946.7,758.7 2011.4,759.7" fill="none" stroke="#555" stroke-width="0.60" stroke-dasharray="8 4"/>
<polygon points="1922.7,463.0 2063.1,467.1 2059.3,607.9 2138.6,609.4 2140.6,520.3 2232.4,522.4 2226.1,710.1 2206.9,710.1 2205.7,757.6 2134.4,755.5 2134.4,745.1 2056.2,744.1 2054.7,762.8 1915.4,760.1" fill="none" stroke="#000" stroke-width="2.20" stroke-linejoin="miter"/>
<polygon points="2314.8,411.0 2624.9,418.9 2623.4,486.3 2564.0,484.6 2563.6,515.5 2508.7,513.8 2509.4,482.5 2495.2,482.1 2495.6,464.8 2312.1,460.0" fill="url(#xh)" stroke="#333" stroke-width="0.80" stroke-linejoin="miter" />
<polygon points="2514.0,420.4 2620.7,423.1 2619.3,480.9 2560.3,479.4 2559.4,511.3 2512.3,510.1" fill="#b8e4e8" stroke="#2b4a50" stroke-width="0.90" stroke-linejoin="miter" />
<polyline points="2514.0,472.1 2564.0,473.2 2563.6,479.4" fill="none" stroke="#2b4a50" stroke-width="0.60"/>
<polyline points="2514.0,475.9 2560.3,476.7" fill="none" stroke="#2b4a50" stroke-width="0.60"/>
<polyline points="2615.1,424.2 2613.6,480.5" fill="none" stroke="#2b4a50" stroke-width="0.60"/>
<polygon points="2478.9,433.5 2509.8,434.2 2509.4,464.2 2478.5,463.4" fill="#b8e4e8" stroke="#2b4a50" stroke-width="0.90" stroke-linejoin="miter" />
<polygon points="2483.7,439.2 2504.6,439.8 2504.0,459.2 2483.3,458.6" fill="#b8e4e8" stroke="#2b4a50" stroke-width="0.60" stroke-linejoin="miter" />
<polygon points="2279.6,651.8 2306.6,651.8 2305.6,766.3 2302.6,766.8 2302.6,774.8 2327.6,774.8 2327.6,769.8 2394.6,770.8 2393.0,931.5 2407.6,946.8 2307.6,946.8 2324.2,930.8 2326.9,798.8 2279.6,798.4" fill="url(#herr2)" stroke="#333" stroke-width="0.80" stroke-linejoin="miter" />
<polygon points="2482.7,701.1 2497.3,701.3 2497.3,716.9 2482.7,716.7" fill="url(#stone)" stroke="#444" stroke-width="0.70" stroke-linejoin="miter" />
<polygon points="2483.7,719.2 2499.4,719.4 2499.4,729.0 2483.7,728.8" fill="url(#stone)" stroke="#444" stroke-width="0.70" stroke-linejoin="miter" />
<polygon points="2483.7,730.9 2499.4,731.1 2499.4,740.3 2483.7,740.1" fill="url(#stone)" stroke="#444" stroke-width="0.70" stroke-linejoin="miter" />
<polygon points="2483.1,741.7 2499.4,741.9 2499.4,751.3 2483.1,751.1" fill="url(#stone)" stroke="#444" stroke-width="0.70" stroke-linejoin="miter" />
<polygon points="2482.7,752.6 2498.9,752.8 2498.9,762.4 2482.7,762.2" fill="url(#stone)" stroke="#444" stroke-width="0.70" stroke-linejoin="miter" />
<polygon points="2482.7,763.8 2498.9,764.0 2498.9,773.2 2482.7,773.0" fill="url(#stone)" stroke="#444" stroke-width="0.70" stroke-linejoin="miter" />
<polygon points="2395.5,773.4 2418.0,774.3 2417.6,793.9 2395.1,793.0" fill="url(#stone)" stroke="#444" stroke-width="0.70" stroke-linejoin="miter" />
<polygon points="2420.5,773.4 2439.9,774.3 2439.5,793.9 2420.1,793.0" fill="url(#stone)" stroke="#444" stroke-width="0.70" stroke-linejoin="miter" />
<polygon points="2441.4,773.4 2460.8,774.3 2460.4,793.9 2441.0,793.0" fill="url(#stone)" stroke="#444" stroke-width="0.70" stroke-linejoin="miter" />
<polygon points="2462.9,773.4 2481.6,774.3 2481.2,793.9 2462.5,793.0" fill="url(#stone)" stroke="#444" stroke-width="0.70" stroke-linejoin="miter" />
<polygon points="2483.7,773.4 2505.6,774.3 2505.2,793.9 2483.3,793.0" fill="url(#stone)" stroke="#444" stroke-width="0.70" stroke-linejoin="miter" />
<polyline points="2407.6,696.9 2408.7,750.1 2473.3,751.1 2474.8,697.9" fill="none" stroke="#888" stroke-width="0.70" stroke-dasharray="8 4"/>
<polyline points="2418.0,762.6 2518.1,764.7 2518.5,751.1 2508.7,750.5 2509.4,725.1" fill="none" stroke="#888" stroke-width="0.70" stroke-dasharray="8 4"/>
<polygon points="2468.1,755.3 2479.6,755.5 2479.6,758.8 2468.1,758.6" fill="#ffffff" stroke="#777" stroke-width="0.50" stroke-linejoin="miter" />
<polygon points="2502.5,755.9 2514.0,756.1 2514.0,759.5 2502.5,759.3" fill="#ffffff" stroke="#777" stroke-width="0.50" stroke-linejoin="miter" />
<polygon points="2492.1,611.4 2529.6,611.8 2575.5,659.8 2566.1,668.5 2546.3,661.9 2511.5,660.8 2511.5,621.2 2492.1,621.2" fill="#e6e6e6" stroke="#000" stroke-width="1.10" stroke-linejoin="miter" />
<polygon points="2311.7,460.0 2393.4,546.1 2308.0,633.1" fill="#b3b3b3" stroke="#000" stroke-width="1.10" stroke-linejoin="miter" />
<polygon points="2311.7,460.0 2495.6,464.8 2409.3,546.8 2393.4,546.1" fill="#e6e6e6" stroke="#000" stroke-width="1.10" stroke-linejoin="miter" />
<polygon points="2495.6,464.8 2492.1,621.2 2478.5,620.2 2409.3,546.8" fill="#ffffff" stroke="#000" stroke-width="1.10" stroke-linejoin="miter" />
<polygon points="2393.4,546.1 2409.3,546.8 2477.5,620.2 2444.1,610.8 2409.7,619.1 2365.9,572.2" fill="#ffffff" stroke="#000" stroke-width="1.10" stroke-linejoin="miter" />
<polygon points="2308.0,633.1 2365.9,572.2 2366.3,576.8 2403.9,620.2 2403.9,635.2" fill="#ffffff" stroke="#000" stroke-width="1.10" stroke-linejoin="miter" />
<polygon points="2365.9,572.2 2366.3,576.8 2407.6,619.1 2409.7,619.1" fill="#ffffff" stroke="none" stroke-width="0.00" stroke-linejoin="miter" />
<polyline points="2366.3,576.8 2407.6,618.5" fill="none" stroke="#000" stroke-width="1.00"/>
<polyline points="2365.9,572.2 2409.7,619.1" fill="none" stroke="#000" stroke-width="1.00"/>
<polyline points="2348.2,470.5 2388.9,471.3 2388.9,468.4 2484.8,471.1 2483.7,478.4 2490.0,478.8 2487.9,528.4" fill="none" stroke="#555" stroke-width="0.60" stroke-dasharray="8 4"/>
<polyline points="2430.6,528.0 2484.8,530.1 2480.6,618.1" fill="none" stroke="#555" stroke-width="0.60" stroke-dasharray="8 4"/>
<polygon points="2311.7,460.0 2495.6,464.8 2492.1,621.2 2478.5,620.2 2444.1,610.8 2409.7,619.1 2403.9,620.2 2403.9,635.2 2308.0,633.1" fill="none" stroke="#000" stroke-width="2.20" stroke-linejoin="miter"/>
<polygon points="2309.2,634.4 2363.8,635.0 2363.4,712.5 2305.9,765.7" fill="#b3b3b3" stroke="#000" stroke-width="1.10" stroke-linejoin="miter" />
<polygon points="2363.8,635.0 2403.9,635.8 2403.9,695.9 2418.0,696.3 2416.4,769.3 2363.4,712.5" fill="#ffffff" stroke="#000" stroke-width="1.10" stroke-linejoin="miter" />
<polygon points="2305.9,765.7 2363.4,712.5 2416.4,769.3" fill="#ffffff" stroke="#000" stroke-width="1.10" stroke-linejoin="miter" />
<polyline points="2323.2,758.4 2407.6,760.1 2409.3,696.9" fill="none" stroke="#555" stroke-width="0.60" stroke-dasharray="8 4"/>
<polygon points="2302.9,766.8 2327.3,767.2 2327.3,774.7 2302.9,774.3" fill="#cdd9c9" stroke="#333" stroke-width="0.70" stroke-linejoin="miter" />
<polygon points="2309.2,633.7 2403.9,635.4 2403.5,695.9 2418.0,696.3 2416.4,769.9 2305.5,766.3" fill="none" stroke="#000" stroke-width="2.20" stroke-linejoin="miter"/>
<polygon points="2532.3,545.1 2625.5,547.2 2577.6,591.4" fill="#e6e6e6" stroke="#000" stroke-width="1.10" stroke-linejoin="miter" />
<polygon points="2532.3,545.1 2577.6,591.4 2575.5,659.8 2529.6,611.8" fill="#b3b3b3" stroke="#000" stroke-width="1.10" stroke-linejoin="miter" />
<polygon points="2625.5,547.2 2620.3,726.1 2567.1,669.2 2575.5,659.8 2577.6,591.4" fill="#ffffff" stroke="#000" stroke-width="1.10" stroke-linejoin="miter" />
<polygon points="2499.4,721.9 2567.1,669.2 2620.3,726.1" fill="#ffffff" stroke="#000" stroke-width="1.10" stroke-linejoin="miter" />
<polygon points="2511.5,661.5 2546.3,662.5 2510.2,696.9" fill="#ffffff" stroke="#000" stroke-width="1.10" stroke-linejoin="miter" />
<polygon points="2546.3,662.5 2552.5,668.3 2498.3,720.9 2497.3,700.0" fill="#b3b3b3" stroke="#000" stroke-width="1.10" stroke-linejoin="miter" />
<polygon points="2552.5,668.3 2567.1,669.2 2499.4,721.9 2498.3,720.9" fill="#ffffff" stroke="#000" stroke-width="0.80" stroke-linejoin="miter" />
<polygon points="2546.3,662.1 2566.1,668.5 2567.5,669.6 2552.5,668.7" fill="#ffffff" stroke="none" stroke-width="0.00" stroke-linejoin="miter" />
<polyline points="2546.3,661.9 2566.1,668.5" fill="none" stroke="#000" stroke-width="1.00"/>
<polyline points="2591.1,579.5 2615.1,580.1 2610.9,711.9" fill="none" stroke="#555" stroke-width="0.60" stroke-dasharray="8 4"/>
<polyline points="2508.7,714.6 2610.9,717.1" fill="none" stroke="#555" stroke-width="0.60" stroke-dasharray="8 4"/>
<polyline points="2529.6,611.8 2532.3,545.1 2625.5,547.2 2620.3,726.1 2496.9,721.9 2497.3,700.0" fill="none" stroke="#000" stroke-width="2.20" stroke-linejoin="miter"/>
<polyline points="2492.1,611.4 2529.6,611.8" fill="none" stroke="#000" stroke-width="1.60" stroke-linejoin="miter"/>
<polygon points="2409.7,619.1 2444.1,610.8 2477.5,620.2" fill="#ffffff" stroke="#000" stroke-width="0.90" stroke-linejoin="miter" />
<polyline points="2444.7,611.4 2444.7,619.7" fill="none" stroke="#000" stroke-width="0.90"/>
<polygon points="2404.5,619.1 2511.5,621.2 2509.8,697.3 2402.4,695.6" fill="#ffffff" stroke="#000" stroke-width="1.50" stroke-linejoin="miter" />
<polygon points="2409.7,622.7 2508.7,624.7 2507.3,694.2 2408.7,692.7" fill="#ffffff" stroke="#000" stroke-width="1.50" stroke-linejoin="miter" />
<polyline points="2459.3,623.3 2457.7,694.2" fill="none" stroke="#000" stroke-width="1.10"/>
<polyline points="2409.7,657.7 2445.2,623.1" fill="none" stroke="#000" stroke-width="1.10"/>
<polyline points="2473.3,623.9 2508.7,659.8" fill="none" stroke="#000" stroke-width="1.10"/>
<polyline points="2409.7,658.7 2444.1,693.6" fill="none" stroke="#000" stroke-width="1.10"/>
<polyline points="2508.7,660.8 2472.3,694.2" fill="none" stroke="#000" stroke-width="1.10"/>
<polyline points="2401.8,657.7 2409.7,657.9" fill="none" stroke="#000" stroke-width="2.20"/>
<polyline points="2508.1,660.2 2511.5,660.4" fill="none" stroke="#000" stroke-width="2.20"/>
<polygon points="1204.3,1380.4 1282.9,1381.0 1280.2,1523.9 1414.2,1527.0 1414.2,1533.9 1269.7,1530.1 1268.3,1575.0 1143.2,1571.4 1144.6,1505.1 1195.3,1506.1 1196.3,1469.2 1202.6,1469.2" fill="url(#xh)" stroke="#333" stroke-width="0.80" stroke-linejoin="miter" />
<polygon points="1204.7,1381.0 1227.2,1381.0 1226.6,1420.0 1204.3,1419.4" fill="#cdd9c9" stroke="#333" stroke-width="0.70" stroke-linejoin="miter" />
<polygon points="1259.3,1382.5 1282.2,1383.1 1281.4,1422.1 1258.5,1421.5" fill="#cdd9c9" stroke="#333" stroke-width="0.70" stroke-linejoin="miter" />
<polygon points="1217.2,1440.9 1268.3,1441.7 1265.1,1570.8 1148.0,1567.2 1148.8,1509.3 1214.7,1510.9" fill="#b8e4e8" stroke="#2b4a50" stroke-width="0.90" stroke-linejoin="miter" />
<polyline points="1217.2,1469.2 1267.2,1470.3" fill="none" stroke="#2b4a50" stroke-width="0.60"/>
<polyline points="1217.2,1471.7 1267.2,1472.8" fill="none" stroke="#2b4a50" stroke-width="0.60"/>
<polyline points="1214.7,1513.4 1263.5,1514.5 1262.2,1570.2" fill="none" stroke="#2b4a50" stroke-width="0.60"/>
<polyline points="1214.7,1516.2 1260.8,1517.2 1259.5,1570.2" fill="none" stroke="#2b4a50" stroke-width="0.60"/>
<polyline points="1214.7,1518.9 1258.1,1519.9 1256.8,1570.2" fill="none" stroke="#2b4a50" stroke-width="0.60"/>
<polyline points="1214.7,1521.6 1255.3,1522.6 1254.1,1570.2" fill="none" stroke="#2b4a50" stroke-width="0.60"/>
<polyline points="1214.7,1510.9 1214.7,1522.8 1223.4,1523.0" fill="none" stroke="#2b4a50" stroke-width="0.60"/>
<polygon points="1327.5,1042.0 1437.6,1042.0 1421.0,1061.0 1418.0,1152.0 1450.5,1153.0 1446.4,1340.7 1425.5,1340.0 1427.6,1229.0 1338.4,1227.0 1342.0,1061.0" fill="url(#herr2)" stroke="#333" stroke-width="0.80" stroke-linejoin="miter" />
<polygon points="1291.8,1179.2 1338.1,1179.6 1337.7,1199.0 1291.2,1198.4" fill="url(#stone)" stroke="#444" stroke-width="0.70" stroke-linejoin="miter" />
<polygon points="1302.3,1200.0 1317.7,1200.3 1317.7,1207.3 1302.3,1207.1" fill="url(#stone)" stroke="#444" stroke-width="0.70" stroke-linejoin="miter" />
<polygon points="1302.3,1209.4 1317.7,1209.6 1317.7,1216.7 1302.3,1216.5" fill="url(#stone)" stroke="#444" stroke-width="0.70" stroke-linejoin="miter" />
<polygon points="1302.3,1218.8 1317.3,1219.0 1317.3,1226.1 1302.3,1225.9" fill="url(#stone)" stroke="#444" stroke-width="0.70" stroke-linejoin="miter" />
<polygon points="1398.6,1228.8 1427.8,1229.2 1423.6,1380.0 1420.5,1526.0 1351.7,1455.5 1354.8,1316.8 1375.2,1298.0 1376.1,1278.2 1398.2,1257.4" fill="#b3b3b3" stroke="#000" stroke-width="1.10" stroke-linejoin="miter" />
<polygon points="1370.4,1228.8 1398.6,1228.8 1398.2,1257.4" fill="#ffffff" stroke="#000" stroke-width="1.10" stroke-linejoin="miter" />
<polygon points="1331.9,1229.2 1370.4,1229.7 1398.2,1257.4 1376.1,1278.9" fill="#ffffff" stroke="#000" stroke-width="1.10" stroke-linejoin="miter" />
<polygon points="1331.9,1230.3 1376.1,1278.9 1375.2,1298.0 1330.8,1249.0" fill="#ffffff" stroke="#000" stroke-width="1.10" stroke-linejoin="miter" />
<polygon points="1287.0,1227.6 1308.5,1228.2 1307.3,1282.4 1286.4,1260.5" fill="#ffffff" stroke="#000" stroke-width="1.10" stroke-linejoin="miter" />
<polygon points="1308.5,1228.2 1330.8,1228.8 1330.2,1260.1 1307.3,1282.4" fill="#b3b3b3" stroke="#000" stroke-width="1.10" stroke-linejoin="miter" />
<polygon points="1172.4,1277.2 1208.9,1244.9 1286.4,1246.3 1286.4,1260.5 1307.3,1282.4 1330.2,1260.1 1330.8,1249.0 1375.2,1298.0 1354.8,1316.8 1202.6,1311.6" fill="#ffffff" stroke="#000" stroke-width="1.10" stroke-linejoin="miter" />
<polygon points="1136.9,1232.4 1172.4,1233.4 1171.7,1277.2 1202.6,1311.6 1182.8,1329.3 1136.3,1283.4" fill="#ffffff" stroke="#000" stroke-width="1.10" stroke-linejoin="miter" />
<polygon points="1172.4,1233.4 1208.9,1233.8 1208.9,1244.9 1171.7,1277.2" fill="#b3b3b3" stroke="#000" stroke-width="1.10" stroke-linejoin="miter" />
<polygon points="1116.1,1279.3 1136.9,1279.7 1136.9,1283.4 1182.8,1329.3 1160.9,1333.9 1157.8,1423.1 1111.9,1466.9" fill="#ffffff" stroke="#000" stroke-width="1.10" stroke-linejoin="miter" />
<polyline points="1116.1,1279.3 1163.0,1331.0" fill="none" stroke="#000" stroke-width="1.00"/>
<polyline points="1136.3,1283.4 1182.8,1329.3" fill="none" stroke="#000" stroke-width="1.00"/>
<polygon points="1160.9,1334.5 1204.3,1380.4 1202.6,1468.6 1157.8,1423.1" fill="#b3b3b3" stroke="#000" stroke-width="1.10" stroke-linejoin="miter" />
<polygon points="1111.9,1466.9 1157.8,1423.1 1202.6,1468.6" fill="#e6e6e6" stroke="#000" stroke-width="1.10" stroke-linejoin="miter" />
<polygon points="1160.9,1333.9 1182.8,1329.3 1202.6,1311.6 1354.8,1316.8 1283.9,1381.0 1262.0,1381.0 1262.0,1385.6 1226.6,1385.2 1226.6,1380.4 1204.3,1380.4" fill="#e6e6e6" stroke="#000" stroke-width="1.10" stroke-linejoin="miter" />
<polygon points="1354.8,1316.8 1351.7,1455.5 1280.2,1522.8 1283.9,1381.0" fill="#ffffff" stroke="#000" stroke-width="1.10" stroke-linejoin="miter" />
<polygon points="1280.2,1522.8 1351.7,1455.5 1420.5,1526.0" fill="#e6e6e6" stroke="#000" stroke-width="1.10" stroke-linejoin="miter" />
<polyline points="1142.1,1235.5 1141.1,1283.4" fill="none" stroke="#555" stroke-width="0.60" stroke-dasharray="8 4"/>
<polyline points="1203.6,1250.1 1296.4,1252.2 1297.5,1275.1" fill="none" stroke="#555" stroke-width="0.60" stroke-dasharray="8 4"/>
<polyline points="1121.3,1285.5 1118.1,1437.7 1142.1,1438.8" fill="none" stroke="#555" stroke-width="0.60" stroke-dasharray="8 4"/>
<polyline points="1288.1,1379.4 1287.0,1457.6 1344.4,1458.6" fill="none" stroke="#555" stroke-width="0.60" stroke-dasharray="8 4"/>
<polyline points="1332.9,1234.4 1369.4,1235.5" fill="none" stroke="#555" stroke-width="0.60" stroke-dasharray="8 4"/>
<polygon points="1136.9,1232.4 1208.9,1233.8 1208.9,1244.9 1286.4,1246.3 1287.0,1227.6 1427.8,1229.2 1420.5,1526.0 1280.2,1522.8 1283.9,1381.0 1262.0,1381.0 1262.0,1385.6 1226.6,1385.2 1226.6,1380.4 1204.3,1380.4 1202.6,1468.6 1111.9,1466.9 1116.1,1279.3 1136.3,1279.7" fill="none" stroke="#000" stroke-width="2.20" stroke-linejoin="miter"/>
<polygon points="1595.7,1488.0 1693.7,1489.6 1692.3,1543.8 1710.4,1543.8 1710.4,1537.0 1743.1,1537.6 1743.1,1545.9 1761.5,1546.3 1759.8,1612.6 1741.1,1612.0 1741.1,1619.7 1709.4,1618.9 1709.4,1612.0 1701.0,1606.8 1583.2,1604.7 1575.9,1609.3 1575.9,1615.1 1542.6,1614.1 1542.6,1606.4 1531.7,1605.8 1533.2,1541.1 1545.1,1541.1 1545.1,1532.8 1576.3,1533.4 1576.3,1541.1 1594.3,1541.1" fill="url(#xh)" stroke="#333" stroke-width="0.80" stroke-linejoin="miter" />
<polygon points="1620.7,1514.6 1667.2,1515.5 1666.6,1547.4 1620.1,1546.3" fill="#b8e4e8" stroke="#2b4a50" stroke-width="0.90" stroke-linejoin="miter" />
<polygon points="1584.3,1545.9 1702.1,1548.4 1700.6,1606.4 1582.6,1603.7" fill="#b8e4e8" stroke="#2b4a50" stroke-width="0.90" stroke-linejoin="miter" />
<polygon points="1544.2,1558.4 1575.5,1558.9 1574.9,1589.7 1543.6,1589.1" fill="#b8e4e8" stroke="#2b4a50" stroke-width="0.90" stroke-linejoin="miter" />
<polygon points="1549.9,1564.1 1569.7,1564.7 1569.2,1583.9 1549.2,1583.5" fill="#b8e4e8" stroke="#2b4a50" stroke-width="0.60" stroke-linejoin="miter" />
<polygon points="1679.5,1042.0 1782.5,1042.0 1766.4,1061.0 1765.4,1119.7 1812.5,1165.0 1812.0,1243.0 1777.8,1242.5 1777.8,1231.0 1690.6,1229.0 1694.5,1061.0" fill="url(#herr2)" stroke="#333" stroke-width="0.80" stroke-linejoin="miter" />
<polygon points="1641.0,1195.6 1663.5,1196.1 1663.5,1211.3 1641.0,1210.9" fill="url(#stone)" stroke="#444" stroke-width="0.70" stroke-linejoin="miter" />
<polygon points="1666.0,1196.3 1688.9,1196.7 1688.9,1211.3 1666.0,1210.9" fill="url(#stone)" stroke="#444" stroke-width="0.70" stroke-linejoin="miter" />
<polygon points="1640.1,1213.4 1663.1,1213.8 1662.7,1228.8 1639.7,1228.4" fill="url(#stone)" stroke="#444" stroke-width="0.70" stroke-linejoin="miter" />
<polygon points="1639.8,1230.5 1662.7,1230.9 1662.3,1245.5 1639.4,1245.1" fill="url(#stone)" stroke="#444" stroke-width="0.70" stroke-linejoin="miter" />
<polygon points="1639.4,1247.8 1662.4,1248.2 1662.0,1262.8 1639.0,1262.4" fill="url(#stone)" stroke="#444" stroke-width="0.70" stroke-linejoin="miter" />
<polygon points="1639.1,1265.1 1662.0,1265.5 1661.6,1282.6 1638.7,1282.2" fill="url(#stone)" stroke="#444" stroke-width="0.70" stroke-linejoin="miter" />
<polygon points="1638.7,1284.7 1661.6,1285.1 1661.2,1302.4 1638.3,1302.0" fill="url(#stone)" stroke="#444" stroke-width="0.70" stroke-linejoin="miter" />
<polygon points="1638.3,1304.1 1661.3,1304.5 1660.8,1314.9 1637.9,1314.5" fill="url(#stone)" stroke="#444" stroke-width="0.70" stroke-linejoin="miter" />
<polygon points="1508.8,1294.7 1520.0,1294.9 1519.6,1309.5 1508.4,1309.3" fill="url(#stone)" stroke="#444" stroke-width="0.70" stroke-linejoin="miter" />
<polygon points="1508.4,1311.4 1519.6,1311.6 1519.2,1324.1 1508.0,1323.9" fill="url(#stone)" stroke="#444" stroke-width="0.70" stroke-linejoin="miter" />
<polygon points="1508.0,1326.0 1519.3,1326.2 1518.9,1339.1 1507.6,1338.9" fill="url(#stone)" stroke="#444" stroke-width="0.70" stroke-linejoin="miter" />
<polygon points="1507.7,1341.0 1518.9,1341.2 1518.5,1354.3 1507.2,1354.1" fill="url(#stone)" stroke="#444" stroke-width="0.70" stroke-linejoin="miter" />
<polygon points="1507.3,1356.2 1518.6,1356.4 1518.1,1369.5 1506.9,1369.3" fill="url(#stone)" stroke="#444" stroke-width="0.70" stroke-linejoin="miter" />
<polygon points="1506.9,1371.4 1518.2,1371.6 1517.8,1384.5 1506.5,1384.3" fill="url(#stone)" stroke="#444" stroke-width="0.70" stroke-linejoin="miter" />
<polygon points="1506.6,1386.4 1517.8,1386.6 1517.4,1399.1 1506.2,1398.9" fill="url(#stone)" stroke="#444" stroke-width="0.70" stroke-linejoin="miter" />
<polygon points="1506.2,1401.4 1517.5,1401.6 1517.1,1414.2 1505.8,1413.9" fill="url(#stone)" stroke="#444" stroke-width="0.70" stroke-linejoin="miter" />
<polygon points="1505.8,1416.7 1517.1,1416.9 1516.7,1429.4 1505.4,1429.2" fill="url(#stone)" stroke="#444" stroke-width="0.70" stroke-linejoin="miter" />
<polygon points="1505.5,1431.3 1516.8,1431.5 1516.3,1444.6 1505.1,1444.4" fill="url(#stone)" stroke="#444" stroke-width="0.70" stroke-linejoin="miter" />
<polygon points="1505.1,1446.9 1516.4,1447.1 1516.0,1460.7 1504.7,1460.4" fill="url(#stone)" stroke="#444" stroke-width="0.70" stroke-linejoin="miter" />
<polygon points="1504.7,1462.5 1516.0,1462.7 1515.6,1476.3 1504.3,1476.1" fill="url(#stone)" stroke="#444" stroke-width="0.70" stroke-linejoin="miter" />
<polygon points="1504.4,1478.2 1515.6,1478.4 1515.2,1491.9 1504.0,1491.7" fill="url(#stone)" stroke="#444" stroke-width="0.70" stroke-linejoin="miter" />
<polygon points="1504.0,1493.8 1515.3,1494.0 1514.8,1507.2 1503.6,1506.9" fill="url(#stone)" stroke="#444" stroke-width="0.70" stroke-linejoin="miter" />
<polygon points="1503.6,1508.8 1514.9,1509.0 1514.5,1522.2 1503.2,1522.0" fill="url(#stone)" stroke="#444" stroke-width="0.70" stroke-linejoin="miter" />
<polygon points="1503.3,1524.0 1514.5,1524.3 1514.1,1537.2 1502.9,1537.0" fill="url(#stone)" stroke="#444" stroke-width="0.70" stroke-linejoin="miter" />
<polygon points="1502.5,1539.7 1513.4,1539.7 1513.4,1554.3 1501.9,1554.3" fill="url(#stone)" stroke="#444" stroke-width="0.70" stroke-linejoin="miter" />
<polygon points="1515.0,1540.1 1531.7,1540.5 1531.1,1554.3 1514.4,1554.3" fill="url(#stone)" stroke="#444" stroke-width="0.70" stroke-linejoin="miter" />
<polygon points="1594.3,1434.8 1696.9,1437.5 1694.8,1488.6 1593.6,1486.5" fill="#ffffff" stroke="#888" stroke-width="0.60" stroke-linejoin="miter" />
<polyline points="1596.8,1436.9 1595.7,1484.8 1693.1,1486.9 1694.8,1438.6" fill="none" stroke="#555" stroke-width="0.60" stroke-dasharray="8 4"/>
<polygon points="1777.8,1231.1 1777.1,1243.6 1732.7,1285.3 1775.0,1330.5 1770.9,1489.6 1730.2,1447.9 1730.2,1438.1 1749.0,1438.1 1751.1,1337.4 1734.4,1336.4 1722.9,1324.9 1724.4,1281.1" fill="#b3b3b3" stroke="#000" stroke-width="1.10" stroke-linejoin="miter" />
<polygon points="1674.3,1229.0 1777.8,1231.1 1724.4,1281.1" fill="#ffffff" stroke="#000" stroke-width="1.10" stroke-linejoin="miter" />
<polygon points="1674.3,1229.0 1724.4,1281.1 1722.9,1326.0 1714.6,1334.3 1689.6,1335.3 1689.6,1317.2 1672.9,1316.6" fill="#ffffff" stroke="#000" stroke-width="1.10" stroke-linejoin="miter" />
<polygon points="1714.6,1334.3 1722.9,1325.5 1734.4,1336.4" fill="#e6e6e6" stroke="#000" stroke-width="1.10" stroke-linejoin="miter" />
<polyline points="1681.2,1236.3 1767.7,1238.4" fill="none" stroke="#555" stroke-width="0.60" stroke-dasharray="8 4"/>
<polyline points="1681.2,1236.3 1679.1,1315.5" fill="none" stroke="#555" stroke-width="0.60" stroke-dasharray="8 4"/>
<polygon points="1777.1,1243.6 1822.0,1244.6 1777.8,1286.8 1732.7,1285.3" fill="#ffffff" stroke="#000" stroke-width="1.10" stroke-linejoin="miter" />
<polygon points="1732.7,1285.3 1777.8,1286.8 1819.5,1331.8 1774.4,1330.5" fill="#ffffff" stroke="#000" stroke-width="1.10" stroke-linejoin="miter" />
<polygon points="1822.0,1244.6 1819.5,1331.8 1777.8,1286.8" fill="#b3b3b3" stroke="#000" stroke-width="1.10" stroke-linejoin="miter" />
<polyline points="1769.8,1250.9 1813.6,1251.9" fill="none" stroke="#555" stroke-width="0.60" stroke-dasharray="8 4"/>
<polyline points="1769.8,1322.8 1811.5,1323.9" fill="none" stroke="#555" stroke-width="0.60" stroke-dasharray="8 4"/>
<polygon points="1674.3,1229.0 1777.8,1231.1 1777.1,1243.6 1822.0,1244.6 1819.5,1331.8 1774.4,1330.5 1770.9,1489.6 1697.9,1488.2 1696.9,1438.1 1730.2,1438.6 1749.0,1438.1 1751.1,1337.4 1689.6,1336.0 1689.6,1317.2 1672.9,1316.6" fill="none" stroke="#000" stroke-width="2.20" stroke-linejoin="miter"/>
<polygon points="1696.9,1438.1 1713.5,1438.6 1697.9,1471.9" fill="#ffffff" stroke="#000" stroke-width="1.10" stroke-linejoin="miter" />
<polygon points="1713.5,1438.6 1730.2,1438.6 1730.2,1447.9 1697.3,1476.1 1697.9,1471.9" fill="#ffffff" stroke="#000" stroke-width="1.10" stroke-linejoin="miter" />
<polygon points="1697.3,1477.1 1730.2,1447.9 1770.9,1489.6 1697.9,1488.2" fill="#e6e6e6" stroke="#000" stroke-width="1.10" stroke-linejoin="miter" />
<polygon points="1540.9,1222.1 1610.3,1223.8 1574.9,1257.1" fill="#ffffff" stroke="#000" stroke-width="1.10" stroke-linejoin="miter" />
<polygon points="1540.9,1222.1 1574.9,1257.1 1572.8,1302.0 1540.5,1269.7" fill="#ffffff" stroke="#000" stroke-width="1.10" stroke-linejoin="miter" />
<polygon points="1610.3,1223.8 1608.9,1290.1 1590.5,1290.1 1588.4,1332.2 1565.9,1331.8 1566.5,1308.9 1573.4,1302.0 1574.9,1257.1" fill="#b3b3b3" stroke="#000" stroke-width="1.10" stroke-linejoin="miter" />
<polyline points="1547.8,1230.0 1603.0,1231.1" fill="none" stroke="#555" stroke-width="0.60" stroke-dasharray="8 4"/>
<polyline points="1547.8,1230.0 1547.1,1273.8" fill="none" stroke="#555" stroke-width="0.60" stroke-dasharray="8 4"/>
<polygon points="1525.9,1266.5 1540.5,1267.2 1540.5,1273.8 1573.4,1302.0 1566.5,1308.9 1565.9,1331.8 1524.8,1330.5" fill="#ffffff" stroke="#000" stroke-width="1.10" stroke-linejoin="miter" />
<polyline points="1528.0,1268.6 1566.5,1308.9" fill="none" stroke="#000" stroke-width="1.00"/>
<polyline points="1534.6,1274.2 1540.5,1274.2" fill="none" stroke="#000" stroke-width="1.00"/>
<polyline points="1533.2,1278.0 1531.7,1329.1" fill="none" stroke="#555" stroke-width="0.60" stroke-dasharray="8 4"/>
<polygon points="1540.9,1222.1 1610.3,1223.8 1608.9,1290.1 1590.5,1290.1 1588.4,1332.2 1524.8,1330.5 1525.9,1266.5 1540.5,1267.2" fill="none" stroke="#000" stroke-width="2.20" stroke-linejoin="miter"/>
<polygon points="1524.8,1331.8 1565.5,1375.0 1522.7,1413.9" fill="#ffffff" stroke="#000" stroke-width="1.10" stroke-linejoin="miter" />
<polygon points="1524.8,1331.8 1588.4,1333.3 1588.8,1349.9 1613.4,1375.0 1565.5,1375.0" fill="#ffffff" stroke="#000" stroke-width="1.10" stroke-linejoin="miter" />
<polygon points="1522.7,1413.9 1565.5,1375.0 1613.4,1375.0 1623.9,1367.2 1629.7,1367.7 1577.6,1416.7 1563.4,1416.7" fill="#e6e6e6" stroke="#000" stroke-width="1.10" stroke-linejoin="miter" />
<polygon points="1629.7,1367.7 1633.9,1370.8 1633.9,1381.2 1578.0,1433.3 1577.6,1416.7" fill="#ffffff" stroke="#000" stroke-width="1.10" stroke-linejoin="miter" />
<polyline points="1531.1,1338.5 1529.0,1405.2" fill="none" stroke="#555" stroke-width="0.60" stroke-dasharray="8 4"/>
<polygon points="1522.7,1415.2 1563.4,1416.7 1562.4,1456.9 1520.0,1495.9" fill="#ffffff" stroke="#000" stroke-width="1.10" stroke-linejoin="miter" />
<polygon points="1563.4,1416.7 1578.0,1417.3 1578.0,1433.3 1587.4,1434.4 1594.3,1486.5 1603.0,1487.6 1603.0,1498.0 1562.4,1456.9" fill="#b3b3b3" stroke="#000" stroke-width="1.10" stroke-linejoin="miter" />
<polygon points="1520.0,1495.9 1562.4,1456.9 1603.0,1498.6" fill="#e6e6e6" stroke="#000" stroke-width="1.10" stroke-linejoin="miter" />
<polyline points="1530.0,1419.8 1528.0,1484.4" fill="none" stroke="#555" stroke-width="0.60" stroke-dasharray="8 4"/>
<polygon points="1524.8,1331.2 1588.4,1333.3 1588.8,1349.9 1613.4,1356.2 1613.4,1375.0 1623.9,1367.2 1629.7,1367.7 1633.9,1370.8 1633.9,1381.2 1578.0,1433.3 1587.4,1434.4 1594.3,1486.5 1603.0,1487.6 1603.0,1498.6 1519.6,1496.5 1522.7,1413.9" fill="none" stroke="#000" stroke-width="2.00" stroke-linejoin="miter"/>
<polyline points="1522.7,1414.6 1563.4,1416.7 1577.6,1417.1" fill="none" stroke="#000" stroke-width="2.00" stroke-linejoin="miter"/>
<polygon points="1590.5,1290.1 1639.5,1291.6 1615.1,1313.4" fill="#ffffff" stroke="#000" stroke-width="1.10" stroke-linejoin="miter" />
<polygon points="1590.5,1290.1 1615.1,1313.4 1613.4,1356.2 1588.8,1349.9" fill="#ffffff" stroke="#000" stroke-width="1.10" stroke-linejoin="miter" />
<polygon points="1639.5,1291.6 1638.5,1333.3 1613.4,1356.2 1615.1,1313.4" fill="#b3b3b3" stroke="#000" stroke-width="1.10" stroke-linejoin="miter" />
<polyline points="1600.9,1297.8 1634.3,1298.4" fill="none" stroke="#555" stroke-width="0.60" stroke-dasharray="8 4"/>
<polygon points="1590.5,1290.1 1639.5,1291.6 1638.5,1333.3 1613.4,1356.2 1588.8,1349.9" fill="none" stroke="#000" stroke-width="2.00" stroke-linejoin="miter"/>
<polygon points="1638.5,1316.6 1689.6,1317.2 1634.3,1368.7 1623.9,1366.6 1613.4,1356.2 1638.5,1333.3" fill="#ffffff" stroke="#000" stroke-width="1.10" stroke-linejoin="miter" />
<polygon points="1689.6,1317.6 1689.6,1336.0 1640.1,1383.3 1634.3,1380.2 1634.3,1368.7" fill="#b3b3b3" stroke="#000" stroke-width="1.10" stroke-linejoin="miter" />
<polyline points="1642.6,1323.5 1680.2,1324.3" fill="none" stroke="#555" stroke-width="0.60" stroke-dasharray="8 4"/>
<polyline points="1638.5,1316.6 1689.6,1317.2 1689.6,1336.0" fill="none" stroke="#000" stroke-width="2.00" stroke-linejoin="miter"/>
<polygon points="1689.6,1336.0 1751.1,1337.4 1700.0,1386.0 1640.1,1383.9" fill="#ffffff" stroke="#000" stroke-width="1.10" stroke-linejoin="miter" />
<polygon points="1751.1,1337.4 1748.6,1438.1 1700.0,1386.0" fill="#b3b3b3" stroke="#000" stroke-width="1.10" stroke-linejoin="miter" />
<polygon points="1578.0,1433.3 1633.9,1381.2 1640.1,1383.9 1700.0,1386.0 1748.6,1438.1" fill="#e6e6e6" stroke="#000" stroke-width="1.10" stroke-linejoin="miter" />
<polyline points="1689.6,1336.0 1751.1,1337.4 1748.6,1438.1 1578.0,1433.3 1633.9,1381.2" fill="none" stroke="#000" stroke-width="2.20" stroke-linejoin="miter"/>
<polygon points="1916.9,1458.4 2128.6,1464.0 2128.5,1464.0 2127.1,1521.3 2117.3,1521.3 2115.6,1567.6 2069.7,1566.1 2069.7,1563.0 1908.8,1558.4 1910.9,1503.6 1934.6,1504.2 1934.6,1477.1 1915.9,1476.5" fill="url(#xh)" stroke="#333" stroke-width="0.80" stroke-linejoin="miter" />
<polygon points="1938.4,1484.8 1957.6,1485.5 1957.1,1504.2 1938.0,1503.6" fill="#cdd9c9" stroke="#333" stroke-width="0.80" stroke-linejoin="miter" />
<polygon points="2013.0,1487.5 2032.2,1488.0 2031.8,1506.7 2012.4,1506.3" fill="#cdd9c9" stroke="#333" stroke-width="0.80" stroke-linejoin="miter" />
<polygon points="1962.4,1477.9 2009.3,1478.8 2008.2,1513.4 1961.7,1511.9" fill="#b8e4e8" stroke="#2b4a50" stroke-width="0.90" stroke-linejoin="miter" />
<polygon points="1933.8,1508.8 2071.4,1512.6 2069.3,1558.4 1932.5,1554.7" fill="#b8e4e8" stroke="#2b4a50" stroke-width="0.90" stroke-linejoin="miter" />
<polyline points="1940.5,1509.9 1939.4,1555.1" fill="none" stroke="#2b4a50" stroke-width="0.60"/>
<polyline points="1961.7,1506.3 2008.2,1507.8" fill="none" stroke="#2b4a50" stroke-width="0.60"/>
<polygon points="2072.2,1519.7 2101.0,1520.5 2100.0,1551.6 2071.4,1550.5" fill="#b8e4e8" stroke="#2b4a50" stroke-width="0.90" stroke-linejoin="miter" />
<polygon points="2073.9,1525.5 2095.2,1526.1 2094.3,1545.3 2073.3,1544.7" fill="#b8e4e8" stroke="#2b4a50" stroke-width="0.60" stroke-linejoin="miter" />
<polygon points="2079.0,1042.0 2171.5,1042.0 2156.5,1062.0 2158.0,1140.0 2199.9,1188.0 2197.8,1261.7 2164.4,1261.0 2164.0,1236.0 2090.6,1234.6 2094.0,1062.0" fill="url(#herr2)" stroke="#333" stroke-width="0.80" stroke-linejoin="miter" />
<polygon points="1984.3,1194.2 2090.6,1195.6 2090.2,1213.4 2001.8,1212.3 2001.4,1226.9 1983.8,1226.5" fill="none" stroke="#333" stroke-width="0.70" stroke-linejoin="miter" />
<polygon points="1985.7,1196.7 2000.3,1196.9 2000.3,1211.3 1985.7,1211.1" fill="url(#stone)" stroke="#444" stroke-width="0.70" stroke-linejoin="miter" />
<polygon points="2002.4,1196.7 2016.0,1196.9 2016.0,1211.3 2002.4,1211.1" fill="url(#stone)" stroke="#444" stroke-width="0.70" stroke-linejoin="miter" />
<polygon points="2017.6,1196.7 2031.6,1196.9 2031.6,1211.3 2017.6,1211.1" fill="url(#stone)" stroke="#444" stroke-width="0.70" stroke-linejoin="miter" />
<polygon points="2033.7,1196.7 2047.2,1196.9 2047.2,1211.3 2033.7,1211.1" fill="url(#stone)" stroke="#444" stroke-width="0.70" stroke-linejoin="miter" />
<polygon points="2049.3,1196.7 2062.9,1196.9 2062.9,1211.3 2049.3,1211.1" fill="url(#stone)" stroke="#444" stroke-width="0.70" stroke-linejoin="miter" />
<polygon points="2065.0,1196.7 2078.5,1196.9 2078.5,1211.3 2065.0,1211.1" fill="url(#stone)" stroke="#444" stroke-width="0.70" stroke-linejoin="miter" />
<polygon points="2080.6,1196.7 2088.9,1196.9 2088.9,1211.3 2080.6,1211.1" fill="url(#stone)" stroke="#444" stroke-width="0.70" stroke-linejoin="miter" />
<polygon points="1985.7,1213.4 2000.3,1213.6 2000.3,1225.5 1985.7,1225.2" fill="url(#stone)" stroke="#444" stroke-width="0.70" stroke-linejoin="miter" />
<polygon points="1916.3,1411.0 2046.8,1413.5 2045.1,1461.5 1918.0,1457.3" fill="#ffffff" stroke="#888" stroke-width="0.60" stroke-linejoin="miter" />
<polyline points="1919.0,1414.6 1918.0,1454.8 2044.1,1458.4" fill="none" stroke="#555" stroke-width="0.60" stroke-dasharray="8 4"/>
<polygon points="1919.0,1232.1 1950.3,1233.2 1950.3,1285.3 1994.7,1333.9 1914.8,1410.4" fill="#b3b3b3" stroke="#000" stroke-width="1.10" stroke-linejoin="miter" />
<polygon points="1950.3,1233.8 1982.6,1234.2 1982.6,1255.1 1950.3,1285.3" fill="#ffffff" stroke="#000" stroke-width="1.10" stroke-linejoin="miter" />
<polygon points="1950.3,1285.3 1982.6,1255.1 2033.7,1256.1 2097.3,1322.8 2083.7,1335.3 1994.7,1333.9" fill="#e6e6e6" stroke="#000" stroke-width="1.10" stroke-linejoin="miter" />
<polygon points="1914.8,1410.4 1994.7,1333.9 2083.7,1335.3 2124.4,1378.5 2126.9,1408.3 2090.6,1373.5 2046.8,1413.5" fill="#ffffff" stroke="#000" stroke-width="1.10" stroke-linejoin="miter" />
<polygon points="1971.1,1228.4 2013.9,1229.2 2013.9,1231.7 1971.1,1231.1" fill="#b3b3b3" stroke="#000" stroke-width="0.80" stroke-linejoin="miter" />
<polygon points="1983.6,1231.1 1992.0,1231.1 1992.0,1254.0 1983.6,1254.0" fill="#b3b3b3" stroke="#000" stroke-width="1.10" stroke-linejoin="miter" />
<polygon points="1992.0,1231.1 2013.9,1231.7 2013.5,1254.6 1992.0,1254.0" fill="#ffffff" stroke="#000" stroke-width="1.10" stroke-linejoin="miter" />
<polygon points="2034.7,1236.7 2062.9,1237.3 2062.2,1270.7 2097.3,1310.3 2097.3,1322.8 2033.7,1256.1" fill="#b3b3b3" stroke="#000" stroke-width="1.10" stroke-linejoin="miter" />
<polygon points="2062.9,1238.0 2091.0,1238.8 2090.6,1246.7 2062.2,1270.7" fill="#ffffff" stroke="#000" stroke-width="1.10" stroke-linejoin="miter" />
<polygon points="2062.2,1270.7 2090.6,1246.7 2163.0,1248.8 2097.3,1310.3" fill="#e6e6e6" stroke="#000" stroke-width="1.10" stroke-linejoin="miter" />
<polygon points="2078.5,1234.6 2121.3,1235.5 2121.3,1246.7 2091.0,1246.3 2091.0,1238.4 2078.5,1238.0" fill="#b3b3b3" stroke="#000" stroke-width="0.80" stroke-linejoin="miter" />
<polygon points="2121.3,1235.9 2164.0,1236.7 2163.6,1248.0 2121.3,1246.7" fill="#ffffff" stroke="#000" stroke-width="0.80" stroke-linejoin="miter" />
<polygon points="2097.3,1310.3 2163.0,1248.8 2161.9,1342.6 2124.4,1378.5 2083.7,1335.3 2097.3,1322.8" fill="#ffffff" stroke="#000" stroke-width="1.10" stroke-linejoin="miter" />
<polygon points="2164.4,1262.4 2210.9,1263.4 2163.0,1307.2" fill="#e6e6e6" stroke="#000" stroke-width="1.10" stroke-linejoin="miter" />
<polygon points="2210.9,1263.4 2207.8,1344.7 2161.9,1342.6 2163.0,1307.2" fill="#ffffff" stroke="#000" stroke-width="1.10" stroke-linejoin="miter" />
<polygon points="2161.9,1343.1 2207.8,1345.1 2170.3,1380.2 2124.4,1378.5" fill="#e6e6e6" stroke="#000" stroke-width="1.10" stroke-linejoin="miter" />
<polygon points="2207.8,1345.1 2206.1,1418.7 2170.3,1380.2" fill="#ffffff" stroke="#000" stroke-width="1.10" stroke-linejoin="miter" />
<polygon points="2124.4,1378.5 2170.3,1380.2 2206.1,1418.7 2131.7,1417.3 2126.9,1408.3" fill="#ffffff" stroke="#000" stroke-width="1.10" stroke-linejoin="miter" />
<polygon points="2208.8,1352.0 2215.1,1352.0 2214.0,1408.3 2207.8,1408.3" fill="#ffffff" stroke="#000" stroke-width="0.70" stroke-linejoin="miter" />
<polygon points="2046.8,1413.5 2090.6,1373.5 2088.9,1462.5 2045.1,1461.5" fill="#b3b3b3" stroke="#000" stroke-width="1.10" stroke-linejoin="miter" />
<polygon points="2090.6,1373.5 2131.7,1417.3 2130.6,1463.6 2088.9,1462.5" fill="#ffffff" stroke="#000" stroke-width="1.10" stroke-linejoin="miter" />
<polyline points="1920.0,1406.2 2047.2,1409.4" fill="none" stroke="#555" stroke-width="0.60" stroke-dasharray="8 4"/>
<polyline points="2091.0,1410.4 2123.3,1411.0 2122.3,1460.4" fill="none" stroke="#555" stroke-width="0.60" stroke-dasharray="8 4"/>
<polyline points="2128.6,1349.9 2149.4,1350.6" fill="none" stroke="#555" stroke-width="0.60" stroke-dasharray="8 4"/>
<polyline points="2128.6,1349.9 2126.9,1409.4 2201.5,1411.4" fill="none" stroke="#555" stroke-width="0.60" stroke-dasharray="8 4"/>
<polyline points="2204.7,1271.7 2203.2,1340.6" fill="none" stroke="#555" stroke-width="0.60" stroke-dasharray="8 4"/>
<polygon points="1919.0,1231.7 1982.6,1233.2 1982.6,1255.1 2033.7,1256.1 2034.7,1236.7 2078.5,1237.3 2078.5,1234.6 2164.0,1236.3 2164.4,1262.4 2210.9,1263.4 2206.1,1418.7 2131.7,1417.3 2130.6,1463.6 2045.1,1461.5 2046.8,1413.5 1914.8,1410.4" fill="none" stroke="#000" stroke-width="2.20" stroke-linejoin="miter"/>
<polyline points="2163.0,1248.8 2161.9,1342.6 2207.8,1344.7" fill="none" stroke="#000" stroke-width="2.00" stroke-linejoin="miter"/>
<polygon points="2430.8,1388.5 2510.6,1390.6 2508.6,1440.0 2508.1,1480.7 2513.1,1481.3 2513.1,1517.6 2563.2,1519.2 2561.7,1586.0 2435.6,1582.8 2436.6,1537.0 2293.4,1533.4 2293.8,1526.5 2427.2,1529.7" fill="url(#xh)" stroke="#333" stroke-width="0.80" stroke-linejoin="miter" />
<polygon points="2443.9,1450.0 2494.4,1450.6 2493.5,1521.7 2559.6,1523.0 2558.2,1581.4 2439.3,1578.7 2440.8,1520.3" fill="#b8e4e8" stroke="#2b4a50" stroke-width="0.90" stroke-linejoin="miter" />
<polyline points="2443.5,1478.6 2494.0,1479.6" fill="none" stroke="#2b4a50" stroke-width="0.60"/>
<polyline points="2443.5,1481.3 2494.0,1482.3" fill="none" stroke="#2b4a50" stroke-width="0.60"/>
<polyline points="2492.9,1523.0 2443.9,1521.7 2442.2,1578.7" fill="none" stroke="#2b4a50" stroke-width="0.60"/>
<polyline points="2492.9,1525.7 2446.6,1524.4 2445.0,1578.7" fill="none" stroke="#2b4a50" stroke-width="0.60"/>
<polyline points="2492.9,1528.4 2449.3,1527.2 2447.7,1578.7" fill="none" stroke="#2b4a50" stroke-width="0.60"/>
<polyline points="2492.9,1531.1 2452.0,1529.9 2450.4,1578.7" fill="none" stroke="#2b4a50" stroke-width="0.60"/>
<polyline points="2493.5,1521.7 2492.9,1533.4 2483.5,1533.2" fill="none" stroke="#2b4a50" stroke-width="0.60"/>
<polygon points="2296.5,1042.0 2406.5,1042.0 2389.0,1062.0 2385.0,1231.0 2295.3,1229.0 2291.0,1339.5 2270.9,1339.5 2275.5,1152.5 2310.0,1150.0 2311.5,1062.0" fill="url(#herr2)" stroke="#333" stroke-width="0.80" stroke-linejoin="miter" />
<polygon points="2387.0,1185.2 2433.5,1185.8 2432.9,1204.0 2386.4,1203.4" fill="url(#stone)" stroke="#444" stroke-width="0.70" stroke-linejoin="miter" />
<polygon points="2406.8,1205.4 2422.4,1205.6 2422.4,1213.4 2406.8,1213.2" fill="url(#stone)" stroke="#444" stroke-width="0.70" stroke-linejoin="miter" />
<polygon points="2406.8,1215.0 2421.8,1215.2 2421.8,1222.1 2406.8,1221.9" fill="url(#stone)" stroke="#444" stroke-width="0.70" stroke-linejoin="miter" />
<polygon points="2406.4,1224.2 2421.4,1224.4 2421.4,1231.1 2406.4,1230.9" fill="url(#stone)" stroke="#444" stroke-width="0.70" stroke-linejoin="miter" />
<polygon points="2295.3,1229.6 2323.4,1230.0 2323.4,1258.8 2344.3,1281.1 2343.8,1299.9 2364.7,1320.1 2359.9,1458.4 2287.5,1525.9 2289.6,1440.0" fill="#b3b3b3" stroke="#000" stroke-width="1.10" stroke-linejoin="miter" />
<polygon points="2323.4,1230.5 2352.6,1231.1 2323.4,1258.8" fill="#ffffff" stroke="#000" stroke-width="1.10" stroke-linejoin="miter" />
<polygon points="2323.4,1258.8 2352.6,1231.1 2391.2,1233.2 2344.3,1281.1" fill="#ffffff" stroke="#000" stroke-width="1.10" stroke-linejoin="miter" />
<polygon points="2344.3,1281.1 2391.2,1233.4 2391.2,1258.2 2343.8,1299.9" fill="#ffffff" stroke="#000" stroke-width="1.10" stroke-linejoin="miter" />
<polygon points="2391.8,1233.8 2413.1,1234.2 2412.0,1288.0 2391.2,1263.4" fill="#b3b3b3" stroke="#000" stroke-width="1.10" stroke-linejoin="miter" />
<polygon points="2413.1,1234.2 2435.6,1234.6 2435.0,1264.4 2412.0,1288.0" fill="#ffffff" stroke="#000" stroke-width="1.10" stroke-linejoin="miter" />
<polygon points="2343.8,1299.9 2391.2,1258.2 2391.2,1263.4 2412.0,1288.0 2435.0,1264.4 2436.4,1253.4 2514.8,1255.5 2548.6,1291.6 2516.3,1322.8 2364.7,1320.1" fill="#ffffff" stroke="#000" stroke-width="1.10" stroke-linejoin="miter" />
<polygon points="2514.2,1245.7 2549.6,1246.7 2548.6,1291.6 2513.6,1255.1" fill="#b3b3b3" stroke="#000" stroke-width="1.10" stroke-linejoin="miter" />
<polygon points="2549.6,1246.7 2585.7,1247.1 2584.0,1294.7 2534.0,1341.6 2516.3,1322.8 2548.6,1291.6" fill="#ffffff" stroke="#000" stroke-width="1.10" stroke-linejoin="miter" />
<polygon points="2534.0,1341.6 2582.0,1296.8 2602.8,1295.7 2555.9,1345.8" fill="#ffffff" stroke="#000" stroke-width="1.10" stroke-linejoin="miter" />
<polygon points="2603.9,1295.1 2599.7,1482.3 2554.9,1437.5 2555.9,1345.8" fill="#ffffff" stroke="#000" stroke-width="1.10" stroke-linejoin="miter" />
<polygon points="2555.9,1345.8 2554.9,1437.5 2508.6,1480.3 2510.6,1390.6" fill="#b3b3b3" stroke="#000" stroke-width="1.10" stroke-linejoin="miter" />
<polygon points="2508.6,1480.3 2554.9,1437.5 2599.7,1482.3" fill="#e6e6e6" stroke="#000" stroke-width="1.10" stroke-linejoin="miter" />
<polygon points="2364.7,1320.1 2516.3,1322.8 2534.0,1341.6 2555.9,1345.8 2510.6,1390.6 2488.1,1390.6 2488.1,1394.8 2452.7,1394.3 2452.7,1388.9 2430.8,1388.5" fill="#e6e6e6" stroke="#000" stroke-width="1.10" stroke-linejoin="miter" />
<polygon points="2364.7,1320.1 2430.8,1388.5 2429.3,1440.0 2427.2,1529.7 2358.8,1458.8 2359.9,1458.4" fill="#ffffff" stroke="#000" stroke-width="1.10" stroke-linejoin="miter" />
<polygon points="2287.5,1525.9 2358.8,1458.8 2427.2,1529.7" fill="#e6e6e6" stroke="#000" stroke-width="1.10" stroke-linejoin="miter" />
<polygon points="2431.8,1389.6 2453.1,1390.2 2453.7,1429.2 2431.4,1428.5" fill="#ffffff" stroke="#000" stroke-width="1.10" stroke-linejoin="miter" />
<polygon points="2486.5,1391.0 2509.4,1391.6 2508.6,1431.3 2485.6,1430.6" fill="#ffffff" stroke="#000" stroke-width="1.10" stroke-linejoin="miter" />
<polyline points="2356.8,1237.3 2386.0,1238.0" fill="none" stroke="#555" stroke-width="0.60" stroke-dasharray="8 4"/>
<polyline points="2423.5,1278.0 2423.9,1259.2 2517.3,1261.7" fill="none" stroke="#555" stroke-width="0.60" stroke-dasharray="8 4"/>
<polyline points="2579.9,1250.9 2578.8,1296.8" fill="none" stroke="#555" stroke-width="0.60" stroke-dasharray="8 4"/>
<polyline points="2597.6,1303.0 2594.1,1453.1 2571.5,1452.1" fill="none" stroke="#555" stroke-width="0.60" stroke-dasharray="8 4"/>
<polyline points="2424.5,1390.6 2423.1,1463.6 2367.2,1461.9" fill="none" stroke="#555" stroke-width="0.60" stroke-dasharray="8 4"/>
<polygon points="2295.3,1229.0 2435.6,1234.6 2436.4,1253.4 2513.6,1255.1 2514.2,1245.7 2585.7,1247.1 2584.0,1294.3 2603.9,1294.7 2599.7,1482.3 2507.9,1480.3 2510.6,1390.6 2488.1,1390.6 2488.1,1394.8 2452.7,1394.3 2452.7,1388.9 2430.8,1388.5 2427.2,1529.7 2287.5,1525.9" fill="none" stroke="#000" stroke-width="2.20" stroke-linejoin="miter"/>
<rect x="886.0" y="576.5" width="102.5" height="47.5" fill="#fff"/>
<text x="893.5" y="612.1" font-size="33" font-family="Liberation Sans, sans-serif" fill="#000">LOT 5</text>
<rect x="889.0" y="1371.0" width="102.5" height="47.5" fill="#fff"/>
<text x="896.5" y="1406.6" font-size="33" font-family="Liberation Sans, sans-serif" fill="#000">LOT 6</text>
<rect x="1154.0" y="1127.5" width="102.0" height="47.5" fill="#fff"/>
<text x="1161.5" y="1163.1" font-size="33" font-family="Liberation Sans, sans-serif" fill="#000">LOT 7</text>
<rect x="1300.0" y="818.5" width="103.5" height="47.5" fill="#fff"/>
<text x="1307.5" y="854.1" font-size="33" font-family="Liberation Sans, sans-serif" fill="#000">LOT 4</text>
<rect x="1634.0" y="823.5" width="103.5" height="47.5" fill="#fff"/>
<text x="1641.5" y="859.1" font-size="33" font-family="Liberation Sans, sans-serif" fill="#000">LOT 3</text>
<rect x="2042.5" y="823.5" width="102.5" height="47.5" fill="#fff"/>
<text x="2050.0" y="859.1" font-size="33" font-family="Liberation Sans, sans-serif" fill="#000">LOT 2</text>
<rect x="2427.5" y="822.5" width="102.5" height="47.5" fill="#fff"/>
<text x="2435.0" y="858.1" font-size="33" font-family="Liberation Sans, sans-serif" fill="#000">LOT 1</text>
<rect x="1545.0" y="1127.5" width="103.5" height="47.5" fill="#fff"/>
<text x="1552.5" y="1163.1" font-size="33" font-family="Liberation Sans, sans-serif" fill="#000">LOT 8</text>
<rect x="1954.0" y="1127.5" width="102.5" height="47.5" fill="#fff"/>
<text x="1961.5" y="1163.1" font-size="33" font-family="Liberation Sans, sans-serif" fill="#000">LOT 9</text>
<rect x="2445.5" y="1127.5" width="120.0" height="47.5" fill="#fff"/>
<text x="2453.0" y="1163.1" font-size="33" font-family="Liberation Sans, sans-serif" fill="#000">LOT 10</text>
<use href="#tree" x="407.5" y="366.0"/>
<use href="#tree" x="445.0" y="397.5"/>
<use href="#tree" x="406.0" y="424.0"/>
<use href="#tree" x="613.5" y="375.0"/>
<use href="#tree" x="856.0" y="377.5"/>
<use href="#tree" x="1098.5" y="368.0"/>
<use href="#tree" x="1175.0" y="462.5"/>
<use href="#tree" x="1091.5" y="497.5"/>
<use href="#tree" x="1086.0" y="607.5"/>
<use href="#tree" x="1086.0" y="686.0"/>
<use href="#tree" x="1089.0" y="792.5"/>
<use href="#tree" x="414.0" y="589.0"/>
<use href="#tree" x="532.0" y="612.5"/>
<use href="#tree" x="360.0" y="670.0"/>
<use href="#tree" x="351.5" y="817.5"/>
<use href="#tree" x="350.0" y="926.0"/>
<use href="#tree" x="348.5" y="1004.0"/>
<use href="#tree" x="465.0" y="995.0"/>
<use href="#tree" x="610.0" y="996.0"/>
<use href="#tree" x="757.5" y="999.0"/>
<use href="#tree" x="896.0" y="997.5"/>
<use href="#tree" x="451.5" y="1093.5"/>
<use href="#tree" x="399.0" y="1199.0"/>
<use href="#tree" x="400.0" y="1309.0"/>
<use href="#tree" x="1079.0" y="1251.0"/>
<use href="#tree" x="1073.5" y="1345.0"/>
<use href="#tree" x="1082.5" y="1492.5"/>
<use href="#tree" x="1089.0" y="1637.5"/>
<use href="#tree" x="1291.5" y="352.5"/>
<use href="#tree" x="1360.0" y="354.0"/>
<use href="#tree" x="1491.5" y="367.5"/>
<use href="#tree" x="1661.0" y="354.0"/>
<use href="#tree" x="1805.0" y="375.0"/>
<use href="#tree" x="1885.0" y="357.5"/>
<use href="#tree" x="2102.0" y="350.0"/>
<use href="#tree" x="2037.5" y="412.5"/>
<use href="#tree" x="1487.5" y="479.0"/>
<use href="#tree" x="1487.5" y="610.0"/>
<use href="#tree" x="1484.0" y="715.0"/>
<use href="#tree" x="1876.0" y="564.0"/>
<use href="#tree" x="1871.0" y="702.0"/>
<use href="#tree" x="1472.5" y="870.0"/>
<use href="#tree" x="1761.0" y="844.0"/>
<use href="#tree" x="1869.0" y="869.0"/>
<use href="#tree" x="2204.0" y="350.0"/>
<use href="#tree" x="2276.5" y="367.5"/>
<use href="#tree" x="2420.5" y="350.0"/>
<use href="#tree" x="2563.0" y="352.5"/>
<use href="#tree" x="2675.5" y="350.0"/>
<use href="#tree" x="2272.5" y="516.0"/>
<use href="#tree" x="2684.0" y="499.0"/>
<use href="#tree" x="2678.0" y="627.5"/>
<use href="#tree" x="2268.0" y="652.5"/>
<use href="#tree" x="2262.5" y="786.0"/>
<use href="#tree" x="2188.0" y="829.0"/>
<use href="#tree" x="2575.5" y="827.5"/>
<use href="#tree" x="1476.0" y="1189.0"/>
<use href="#tree" x="1468.5" y="1312.5"/>
<use href="#tree" x="1466.0" y="1457.5"/>
<use href="#tree" x="1457.5" y="1611.0"/>
<use href="#tree" x="1301.5" y="1570.0"/>
<use href="#tree" x="1601.5" y="1630.0"/>
<use href="#tree" x="1687.5" y="1632.5"/>
<use href="#tree" x="1820.0" y="1629.0"/>
<use href="#tree" x="1869.0" y="1121.0"/>
<use href="#tree" x="1865.0" y="1268.5"/>
<use href="#tree" x="1861.0" y="1432.5"/>
<use href="#tree" x="1878.5" y="1480.0"/>
<use href="#tree" x="1842.5" y="1539.0"/>
<use href="#tree" x="1926.0" y="1592.5"/>
<use href="#tree" x="2127.5" y="1600.0"/>
<use href="#tree" x="2255.0" y="1110.0"/>
<use href="#tree" x="2250.0" y="1232.5"/>
<use href="#tree" x="2249.0" y="1384.0"/>
<use href="#tree" x="2221.5" y="1452.5"/>
<use href="#tree" x="2405.5" y="1575.0"/>
<use href="#tree" x="2596.5" y="1519.0"/>
<use href="#tree" x="2725.5" y="1188.0"/>
<use href="#tree" x="2731.5" y="1324.0"/>
<use href="#tree" x="2735.0" y="1496.0"/>
<use href="#tree" x="2630.0" y="1608.0"/>
<use href="#palm" transform="translate(770.0 624.0) rotate(16)"/>
<use href="#palm" transform="translate(766.0 704.5) rotate(22)"/>
<use href="#palm" transform="translate(931.5 740.0) rotate(1)"/>
<use href="#palm" transform="translate(920.0 847.5) rotate(29)"/>
<use href="#palm" transform="translate(927.5 960.0) rotate(15)"/>
<use href="#palm" transform="translate(932.5 1062.5) rotate(3)"/>
<use href="#palm" transform="translate(1132.0 769.0) rotate(10)"/>
<use href="#palm" transform="translate(1146.0 842.0) rotate(7)"/>
<use href="#palm" transform="translate(1177.0 911.0) rotate(23)"/>
<use href="#palm" transform="translate(926.0 1195.0) rotate(30)"/>
<use href="#palm" transform="translate(920.0 1298.5) rotate(15)"/>
<use href="#palm" transform="translate(787.5 1300.0) rotate(24)"/>
<use href="#palm" transform="translate(1115.0 1150.0) rotate(6)"/>
<use href="#palm" transform="translate(1147.5 1170.0) rotate(15)"/>
<use href="#palm" transform="translate(1112.5 1189.0) rotate(0)"/>
<use href="#palm" transform="translate(1295.0 907.5) rotate(13)"/>
<use href="#palm" transform="translate(1450.0 747.5) rotate(26)"/>
<use href="#palm" transform="translate(1516.5 817.5) rotate(17)"/>
<use href="#palm" transform="translate(1516.5 905.0) rotate(11)"/>
<use href="#palm" transform="translate(1632.5 907.5) rotate(24)"/>
<use href="#palm" transform="translate(1841.5 746.5) rotate(10)"/>
<use href="#palm" transform="translate(1906.5 847.5) rotate(4)"/>
<use href="#palm" transform="translate(1885.0 910.0) rotate(8)"/>
<use href="#palm" transform="translate(2030.0 908.0) rotate(28)"/>
<use href="#palm" transform="translate(2078.5 772.0) rotate(8)"/>
<use href="#palm" transform="translate(1312.5 1070.0) rotate(8)"/>
<use href="#palm" transform="translate(1452.5 1071.0) rotate(0)"/>
<use href="#palm" transform="translate(1656.5 1070.0) rotate(0)"/>
<use href="#palm" transform="translate(1791.5 1071.0) rotate(13)"/>
<use href="#palm" transform="translate(2056.5 1069.0) rotate(13)"/>
<use href="#palm" transform="translate(2226.5 737.5) rotate(10)"/>
<use href="#palm" transform="translate(2303.0 820.0) rotate(10)"/>
<use href="#palm" transform="translate(2293.0 905.0) rotate(18)"/>
<use href="#palm" transform="translate(2414.0 815.0) rotate(20)"/>
<use href="#palm" transform="translate(2421.5 906.0) rotate(12)"/>
<use href="#palm" transform="translate(2645.5 701.5) rotate(13)"/>
<use href="#palm" transform="translate(2669.0 774.0) rotate(11)"/>
<use href="#palm" transform="translate(2648.0 807.5) rotate(12)"/>
<use href="#palm" transform="translate(2648.0 865.0) rotate(24)"/>
<use href="#palm" transform="translate(1313.5 1155.0) rotate(19)"/>
<use href="#palm" transform="translate(1446.5 1136.0) rotate(1)"/>
<use href="#palm" transform="translate(1665.0 1167.5) rotate(23)"/>
<use href="#palm" transform="translate(2061.5 1165.0) rotate(26)"/>
<use href="#palm" transform="translate(2184.0 1067.5) rotate(10)"/>
<use href="#palm" transform="translate(2280.0 1070.0) rotate(9)"/>
<use href="#palm" transform="translate(2414.0 1075.0) rotate(16)"/>
<use href="#palm" transform="translate(2409.0 1160.0) rotate(4)"/>
<use href="#palm" transform="translate(2453.0 1222.5) rotate(21)"/>
<use href="#palm" transform="translate(2624.0 1125.0) rotate(19)"/>
<use href="#palm" transform="translate(2677.5 1139.0) rotate(0)"/>
<use href="#palm" transform="translate(2635.0 1169.0) rotate(21)"/>
<text x="2151" y="1761.6" font-size="76.5" font-family="Liberation Sans, sans-serif" fill="#000" textLength="465.6" lengthAdjust="spacingAndGlyphs">MATEO COURT</text>
<g transform="translate(1687.5 1766.0) rotate(1.3)"><polygon points="0.0,-68.0 -9.8,-23.6 0.0,-15.3 9.8,-23.6" fill="#fff" stroke="#000" stroke-width="0.8"/><polygon points="0.0,-68.0 -9.8,-23.6 0.0,-15.3" fill="#000"/><polygon points="48.1,-48.1 9.8,-23.6 10.8,-10.8 23.6,-9.8" fill="#fff" stroke="#000" stroke-width="0.8"/><polygon points="48.1,-48.1 9.8,-23.6 10.8,-10.8" fill="#000"/><polygon points="68.0,0.0 23.6,-9.8 15.3,0.0 23.6,9.8" fill="#fff" stroke="#000" stroke-width="0.8"/><polygon points="68.0,0.0 23.6,-9.8 15.3,0.0" fill="#000"/><polygon points="48.1,48.1 23.6,9.8 10.8,10.8 9.8,23.6" fill="#fff" stroke="#000" stroke-width="0.8"/><polygon points="48.1,48.1 23.6,9.8 10.8,10.8" fill="#000"/><polygon points="0.0,68.0 9.8,23.6 0.0,15.3 -9.8,23.6" fill="#fff" stroke="#000" stroke-width="0.8"/><polygon points="0.0,68.0 9.8,23.6 0.0,15.3" fill="#000"/><polygon points="-48.1,48.1 -9.8,23.6 -10.8,10.8 -23.6,9.8" fill="#fff" stroke="#000" stroke-width="0.8"/><polygon points="-48.1,48.1 -9.8,23.6 -10.8,10.8" fill="#000"/><polygon points="-68.0,0.0 -23.6,9.8 -15.3,0.0 -23.6,-9.8" fill="#fff" stroke="#000" stroke-width="0.8"/><polygon points="-68.0,0.0 -23.6,9.8 -15.3,0.0" fill="#000"/><polygon points="-48.1,-48.1 -23.6,-9.8 -10.8,-10.8 -9.8,-23.6" fill="#fff" stroke="#000" stroke-width="0.8"/><polygon points="-48.1,-48.1 -23.6,-9.8 -10.8,-10.8" fill="#000"/><circle r="25.5" fill="#fff" stroke="#000" stroke-width="2"/><path d="M-8 -14 q-4 -2 -3 2 l-4 14 l18 -8 l-4 16 q1 4 -3 2" fill="none" stroke="#000" stroke-width="1"/><path d="M-66 -1.5 L-85 -2.2 L-240 -12.3 A10.8 10.8 0 0 0 -240 9.3 L-85 -0.9 Z" fill="#000"/><path d="M66 0 L92 0.5 L92 1 L66 1 Z" fill="#000"/><path d="M90 0 L225 0.5 L226 1.2 L93 14.5 Q99 6 90 0 Z" fill="#000"/></g>
</svg>
</body></html>
